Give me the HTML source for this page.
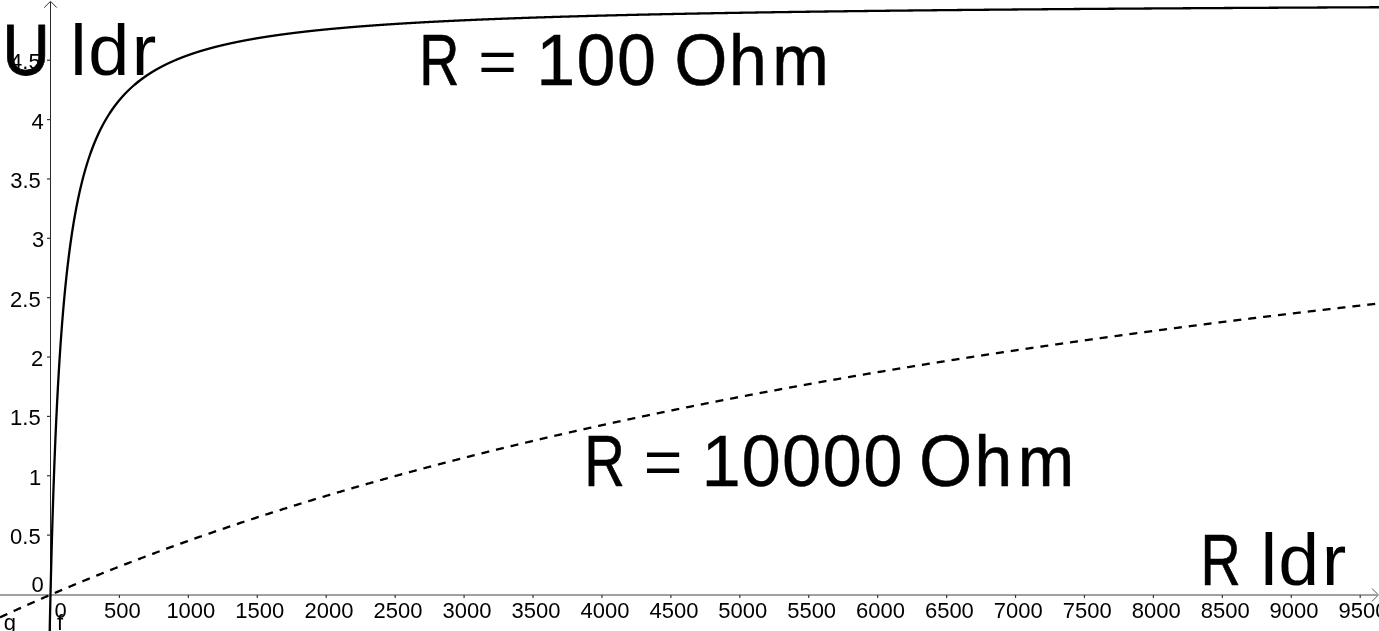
<!DOCTYPE html>
<html><head><meta charset="utf-8"><title>U ldr vs R ldr</title>
<style>html,body{margin:0;padding:0;background:#fff;overflow:hidden;width:1379px;height:631px}svg{display:block;will-change:transform}</style>
</head><body>

<svg width="1379" height="631" viewBox="0 0 1379 631">
<rect width="1379" height="631" fill="#fff"/>
<rect x="0" y="594" width="1377" height="2" fill="#a0a0a0"/>
<path d="M1372 588.5 L1378.4 594.9 L1372 601.3" fill="none" stroke="#555" stroke-width="1"/>
<rect x="50" y="2" width="1" height="629" fill="#2a2a2a"/>
<path d="M44.2 7.6 L50.5 1.3 L56.8 7.6" fill="none" stroke="#333" stroke-width="1"/>
<line x1="119.43" y1="595" x2="119.43" y2="598" stroke="#333" stroke-width="1.2"/>
<line x1="188.36" y1="595" x2="188.36" y2="598" stroke="#333" stroke-width="1.2"/>
<line x1="257.29" y1="595" x2="257.29" y2="598" stroke="#333" stroke-width="1.2"/>
<line x1="326.23" y1="595" x2="326.23" y2="598" stroke="#333" stroke-width="1.2"/>
<line x1="395.16" y1="595" x2="395.16" y2="598" stroke="#333" stroke-width="1.2"/>
<line x1="464.09" y1="595" x2="464.09" y2="598" stroke="#333" stroke-width="1.2"/>
<line x1="533.02" y1="595" x2="533.02" y2="598" stroke="#333" stroke-width="1.2"/>
<line x1="601.95" y1="595" x2="601.95" y2="598" stroke="#333" stroke-width="1.2"/>
<line x1="670.88" y1="595" x2="670.88" y2="598" stroke="#333" stroke-width="1.2"/>
<line x1="739.82" y1="595" x2="739.82" y2="598" stroke="#333" stroke-width="1.2"/>
<line x1="808.75" y1="595" x2="808.75" y2="598" stroke="#333" stroke-width="1.2"/>
<line x1="877.68" y1="595" x2="877.68" y2="598" stroke="#333" stroke-width="1.2"/>
<line x1="946.61" y1="595" x2="946.61" y2="598" stroke="#333" stroke-width="1.2"/>
<line x1="1015.54" y1="595" x2="1015.54" y2="598" stroke="#333" stroke-width="1.2"/>
<line x1="1084.47" y1="595" x2="1084.47" y2="598" stroke="#333" stroke-width="1.2"/>
<line x1="1153.41" y1="595" x2="1153.41" y2="598" stroke="#333" stroke-width="1.2"/>
<line x1="1222.34" y1="595" x2="1222.34" y2="598" stroke="#333" stroke-width="1.2"/>
<line x1="1291.27" y1="595" x2="1291.27" y2="598" stroke="#333" stroke-width="1.2"/>
<line x1="1360.20" y1="595" x2="1360.20" y2="598" stroke="#333" stroke-width="1.2"/>
<line x1="47" y1="535.13" x2="50.5" y2="535.13" stroke="#333" stroke-width="1.2"/>
<line x1="47" y1="475.77" x2="50.5" y2="475.77" stroke="#333" stroke-width="1.2"/>
<line x1="47" y1="416.40" x2="50.5" y2="416.40" stroke="#333" stroke-width="1.2"/>
<line x1="47" y1="357.03" x2="50.5" y2="357.03" stroke="#333" stroke-width="1.2"/>
<line x1="47" y1="297.67" x2="50.5" y2="297.67" stroke="#333" stroke-width="1.2"/>
<line x1="47" y1="238.30" x2="50.5" y2="238.30" stroke="#333" stroke-width="1.2"/>
<line x1="47" y1="178.93" x2="50.5" y2="178.93" stroke="#333" stroke-width="1.2"/>
<line x1="47" y1="119.57" x2="50.5" y2="119.57" stroke="#333" stroke-width="1.2"/>
<line x1="47" y1="60.20" x2="50.5" y2="60.20" stroke="#333" stroke-width="1.2"/>
<g style="font-family:'Liberation Sans',Arial,sans-serif;font-size:22px" fill="#000">
<text x="54.48" y="618.1">0</text>
<text x="103.97" y="618.1">500</text>
<text x="166.38" y="618.1">1000</text>
<text x="235.32" y="618.1">1500</text>
<text x="304.53" y="618.1">2000</text>
<text x="373.46" y="618.1">2500</text>
<text x="442.53" y="618.1">3000</text>
<text x="511.46" y="618.1">3500</text>
<text x="580.56" y="618.1">4000</text>
<text x="649.49" y="618.1">4500</text>
<text x="718.23" y="618.1">5000</text>
<text x="787.17" y="618.1">5500</text>
<text x="855.98" y="618.1">6000</text>
<text x="924.91" y="618.1">6500</text>
<text x="993.84" y="618.1">7000</text>
<text x="1062.77" y="618.1">7500</text>
<text x="1131.79" y="618.1">8000</text>
<text x="1200.72" y="618.1">8500</text>
<text x="1269.61" y="618.1">9000</text>
<text x="1338.54" y="618.1">9500</text>
</g>
<g style="font-family:'Liberation Sans',Arial,sans-serif;font-size:22px" fill="#000">
<text x="31.62" y="592.0">0</text>
<text x="10.04" y="544.1">0.5</text>
<text x="29.04" y="484.8">1</text>
<text x="10.04" y="425.4">1.5</text>
<text x="31.07" y="366.0">2</text>
<text x="10.04" y="306.7">2.5</text>
<text x="32.03" y="247.3">3</text>
<text x="10.24" y="187.9">3.5</text>
<text x="31.41" y="128.6">4</text>
<text x="10.04" y="69.2">4.5</text>
</g>
<text x="57.1" y="629.9" style="font-family:'Liberation Sans',Arial,sans-serif;font-size:22px">f</text>
<text x="3.7" y="630" style="font-family:'Liberation Sans',Arial,sans-serif;font-size:22px">g</text>
<path d="M49.52 640.00 L49.53 639.50 L49.54 639.00 L49.55 638.50 L49.56 638.00 L49.57 637.50 L49.59 637.00 L49.60 636.50 L49.61 636.00 L49.62 635.50 L49.63 635.00 L49.64 634.50 L49.65 634.00 L49.66 633.50 L49.67 633.00 L49.68 632.50 L49.69 632.00 L49.70 631.50 L49.71 631.00 L49.72 630.50 L49.73 630.00 L49.74 629.50 L49.75 629.00 L49.76 628.50 L49.77 628.00 L49.78 627.50 L49.79 627.00 L49.80 626.50 L49.81 626.00 L49.82 625.50 L49.83 625.00 L49.84 624.50 L49.85 624.00 L49.86 623.50 L49.87 623.00 L49.89 622.50 L49.90 622.00 L49.91 621.50 L49.92 621.00 L49.93 620.50 L49.94 620.00 L49.95 619.50 L49.96 619.00 L49.97 618.50 L49.98 618.00 L49.99 617.50 L50.00 617.00 L50.01 616.50 L50.02 616.00 L50.04 615.50 L50.05 615.00 L50.06 614.50 L50.07 614.00 L50.08 613.50 L50.09 613.00 L50.10 612.50 L50.11 612.00 L50.12 611.50 L50.13 611.00 L50.14 610.50 L50.16 610.00 L50.17 609.50 L50.18 609.00 L50.19 608.50 L50.20 608.00 L50.21 607.50 L50.22 607.00 L50.23 606.50 L50.24 606.00 L50.26 605.50 L50.27 605.00 L50.28 604.50 L50.29 604.00 L50.30 603.50 L50.31 603.00 L50.32 602.50 L50.33 602.00 L50.35 601.50 L50.36 601.00 L50.37 600.50 L50.38 600.00 L50.39 599.50 L50.40 599.00 L50.41 598.50 L50.43 598.00 L50.44 597.50 L50.45 597.00 L50.46 596.50 L50.47 596.00 L50.48 595.50 L50.50 595.00 L50.51 594.50 L50.52 594.00 L50.53 593.50 L50.54 593.00 L50.55 592.50 L50.57 592.00 L50.58 591.50 L50.59 591.00 L50.60 590.50 L50.61 590.00 L50.62 589.50 L50.64 589.00 L50.65 588.50 L50.66 588.00 L50.67 587.50 L50.68 587.00 L50.70 586.50 L50.71 586.00 L50.72 585.50 L50.73 585.00 L50.74 584.50 L50.76 584.00 L50.77 583.50 L50.78 583.00 L50.79 582.50 L50.80 582.00 L50.82 581.50 L50.83 581.00 L50.84 580.50 L50.85 580.00 L50.86 579.50 L50.88 579.00 L50.89 578.50 L50.90 578.00 L50.91 577.50 L50.93 577.00 L50.94 576.50 L50.95 576.00 L50.96 575.50 L50.98 575.00 L50.99 574.50 L51.00 574.00 L51.01 573.50 L51.03 573.00 L51.04 572.50 L51.05 572.00 L51.06 571.50 L51.08 571.00 L51.09 570.50 L51.10 570.00 L51.11 569.50 L51.13 569.00 L51.14 568.50 L51.15 568.00 L51.16 567.50 L51.18 567.00 L51.19 566.50 L51.20 566.00 L51.22 565.50 L51.23 565.00 L51.24 564.50 L51.25 564.00 L51.27 563.50 L51.28 563.00 L51.29 562.50 L51.31 562.00 L51.32 561.50 L51.33 561.00 L51.35 560.50 L51.36 560.00 L51.37 559.50 L51.38 559.00 L51.40 558.50 L51.41 558.00 L51.42 557.50 L51.44 557.00 L51.45 556.50 L51.46 556.00 L51.48 555.50 L51.49 555.00 L51.50 554.50 L51.52 554.00 L51.53 553.50 L51.54 553.00 L51.56 552.50 L51.57 552.00 L51.58 551.50 L51.60 551.00 L51.61 550.50 L51.63 550.00 L51.64 549.50 L51.65 549.00 L51.67 548.50 L51.68 548.00 L51.69 547.50 L51.71 547.00 L51.72 546.50 L51.73 546.00 L51.75 545.50 L51.76 545.00 L51.78 544.50 L51.79 544.00 L51.80 543.50 L51.82 543.00 L51.83 542.50 L51.85 542.00 L51.86 541.50 L51.87 541.00 L51.89 540.50 L51.90 540.00 L51.92 539.50 L51.93 539.00 L51.94 538.50 L51.96 538.00 L51.97 537.50 L51.99 537.00 L52.00 536.50 L52.02 536.00 L52.03 535.50 L52.04 535.00 L52.06 534.50 L52.07 534.00 L52.09 533.50 L52.10 533.00 L52.12 532.50 L52.13 532.00 L52.15 531.50 L52.16 531.00 L52.17 530.50 L52.19 530.00 L52.20 529.50 L52.22 529.00 L52.23 528.50 L52.25 528.00 L52.26 527.50 L52.28 527.00 L52.29 526.50 L52.31 526.00 L52.32 525.50 L52.34 525.00 L52.35 524.50 L52.37 524.00 L52.38 523.50 L52.40 523.00 L52.41 522.50 L52.43 522.00 L52.44 521.50 L52.46 521.00 L52.47 520.50 L52.49 520.00 L52.50 519.50 L52.52 519.00 L52.53 518.50 L52.55 518.00 L52.56 517.50 L52.58 517.00 L52.59 516.50 L52.61 516.00 L52.63 515.50 L52.64 515.00 L52.66 514.50 L52.67 514.00 L52.69 513.50 L52.70 513.00 L52.72 512.50 L52.73 512.00 L52.75 511.50 L52.77 511.00 L52.78 510.50 L52.80 510.00 L52.81 509.50 L52.83 509.00 L52.84 508.50 L52.86 508.00 L52.88 507.50 L52.89 507.00 L52.91 506.50 L52.92 506.00 L52.94 505.50 L52.96 505.00 L52.97 504.50 L52.99 504.00 L53.01 503.50 L53.02 503.00 L53.04 502.50 L53.05 502.00 L53.07 501.50 L53.09 501.00 L53.10 500.50 L53.12 500.00 L53.14 499.50 L53.15 499.00 L53.17 498.50 L53.19 498.00 L53.20 497.50 L53.22 497.00 L53.24 496.50 L53.25 496.00 L53.27 495.50 L53.29 495.00 L53.30 494.50 L53.32 494.00 L53.34 493.50 L53.35 493.00 L53.37 492.50 L53.39 492.00 L53.40 491.50 L53.42 491.00 L53.44 490.50 L53.46 490.00 L53.47 489.50 L53.49 489.00 L53.51 488.50 L53.52 488.00 L53.54 487.50 L53.56 487.00 L53.58 486.50 L53.59 486.00 L53.61 485.50 L53.63 485.00 L53.65 484.50 L53.66 484.00 L53.68 483.50 L53.70 483.00 L53.72 482.50 L53.73 482.00 L53.75 481.50 L53.77 481.00 L53.79 480.50 L53.81 480.00 L53.82 479.50 L53.84 479.00 L53.86 478.50 L53.88 478.00 L53.89 477.50 L53.91 477.00 L53.93 476.50 L53.95 476.00 L53.97 475.50 L53.99 475.00 L54.00 474.50 L54.02 474.00 L54.04 473.50 L54.06 473.00 L54.08 472.50 L54.10 472.00 L54.11 471.50 L54.13 471.00 L54.15 470.50 L54.17 470.00 L54.19 469.50 L54.21 469.00 L54.23 468.50 L54.24 468.00 L54.26 467.50 L54.28 467.00 L54.30 466.50 L54.32 466.00 L54.34 465.50 L54.36 465.00 L54.38 464.50 L54.40 464.00 L54.41 463.50 L54.43 463.00 L54.45 462.50 L54.47 462.00 L54.49 461.50 L54.51 461.00 L54.53 460.50 L54.55 460.00 L54.57 459.50 L54.59 459.00 L54.61 458.50 L54.63 458.00 L54.65 457.50 L54.67 457.00 L54.69 456.50 L54.71 456.00 L54.73 455.50 L54.75 455.00 L54.77 454.50 L54.79 454.00 L54.81 453.50 L54.83 453.00 L54.85 452.50 L54.87 452.00 L54.89 451.50 L54.91 451.00 L54.93 450.50 L54.95 450.00 L54.97 449.50 L54.99 449.00 L55.01 448.50 L55.03 448.00 L55.05 447.50 L55.07 447.00 L55.09 446.50 L55.11 446.00 L55.13 445.50 L55.15 445.00 L55.17 444.50 L55.19 444.00 L55.22 443.50 L55.24 443.00 L55.26 442.50 L55.28 442.00 L55.30 441.50 L55.32 441.00 L55.34 440.50 L55.36 440.00 L55.38 439.50 L55.41 439.00 L55.43 438.50 L55.45 438.00 L55.47 437.50 L55.49 437.00 L55.51 436.50 L55.53 436.00 L55.56 435.50 L55.58 435.00 L55.60 434.50 L55.62 434.00 L55.64 433.50 L55.67 433.00 L55.69 432.50 L55.71 432.00 L55.73 431.50 L55.75 431.00 L55.78 430.50 L55.80 430.00 L55.82 429.50 L55.84 429.00 L55.86 428.50 L55.89 428.00 L55.91 427.50 L55.93 427.00 L55.95 426.50 L55.98 426.00 L56.00 425.50 L56.02 425.00 L56.05 424.50 L56.07 424.00 L56.09 423.50 L56.11 423.00 L56.14 422.50 L56.16 422.00 L56.18 421.50 L56.21 421.00 L56.23 420.50 L56.25 420.00 L56.28 419.50 L56.30 419.00 L56.32 418.50 L56.35 418.00 L56.37 417.50 L56.39 417.00 L56.42 416.50 L56.44 416.00 L56.47 415.50 L56.49 415.00 L56.51 414.50 L56.54 414.00 L56.56 413.50 L56.59 413.00 L56.61 412.50 L56.63 412.00 L56.66 411.50 L56.68 411.00 L56.71 410.50 L56.73 410.00 L56.76 409.50 L56.78 409.00 L56.80 408.50 L56.83 408.00 L56.85 407.50 L56.88 407.00 L56.90 406.50 L56.93 406.00 L56.95 405.50 L56.98 405.00 L57.00 404.50 L57.03 404.00 L57.05 403.50 L57.08 403.00 L57.11 402.50 L57.13 402.00 L57.16 401.50 L57.18 401.00 L57.21 400.50 L57.23 400.00 L57.26 399.50 L57.28 399.00 L57.31 398.50 L57.34 398.00 L57.36 397.50 L57.39 397.00 L57.41 396.50 L57.44 396.00 L57.47 395.50 L57.49 395.00 L57.52 394.50 L57.55 394.00 L57.57 393.50 L57.60 393.00 L57.63 392.50 L57.65 392.00 L57.68 391.50 L57.71 391.00 L57.73 390.50 L57.76 390.00 L57.79 389.50 L57.81 389.00 L57.84 388.50 L57.87 388.00 L57.90 387.50 L57.92 387.00 L57.95 386.50 L57.98 386.00 L58.01 385.50 L58.03 385.00 L58.06 384.50 L58.09 384.00 L58.12 383.50 L58.15 383.00 L58.17 382.50 L58.20 382.00 L58.23 381.50 L58.26 381.00 L58.29 380.50 L58.32 380.00 L58.34 379.50 L58.37 379.00 L58.40 378.50 L58.43 378.00 L58.46 377.50 L58.49 377.00 L58.52 376.50 L58.55 376.00 L58.58 375.50 L58.61 375.00 L58.63 374.50 L58.66 374.00 L58.69 373.50 L58.72 373.00 L58.75 372.50 L58.78 372.00 L58.81 371.50 L58.84 371.00 L58.87 370.50 L58.90 370.00 L58.93 369.50 L58.96 369.00 L58.99 368.50 L59.02 368.00 L59.05 367.50 L59.08 367.00 L59.11 366.50 L59.15 366.00 L59.18 365.50 L59.21 365.00 L59.24 364.50 L59.27 364.00 L59.30 363.50 L59.33 363.00 L59.36 362.50 L59.39 362.00 L59.43 361.50 L59.46 361.00 L59.49 360.50 L59.52 360.00 L59.55 359.50 L59.58 359.00 L59.62 358.50 L59.65 358.00 L59.68 357.50 L59.71 357.00 L59.74 356.50 L59.78 356.00 L59.81 355.50 L59.84 355.00 L59.88 354.50 L59.91 354.00 L59.94 353.50 L59.97 353.00 L60.01 352.50 L60.04 352.00 L60.07 351.50 L60.11 351.00 L60.14 350.50 L60.17 350.00 L60.21 349.50 L60.24 349.00 L60.28 348.50 L60.31 348.00 L60.34 347.50 L60.38 347.00 L60.41 346.50 L60.45 346.00 L60.48 345.50 L60.51 345.00 L60.55 344.50 L60.58 344.00 L60.62 343.50 L60.65 343.00 L60.69 342.50 L60.72 342.00 L60.76 341.50 L60.80 341.00 L60.83 340.50 L60.87 340.00 L60.90 339.50 L60.94 339.00 L60.97 338.50 L61.01 338.00 L61.05 337.50 L61.08 337.00 L61.12 336.50 L61.15 336.00 L61.19 335.50 L61.23 335.00 L61.26 334.50 L61.30 334.00 L61.34 333.50 L61.38 333.00 L61.41 332.50 L61.45 332.00 L61.49 331.50 L61.53 331.00 L61.56 330.50 L61.60 330.00 L61.64 329.50 L61.68 329.00 L61.71 328.50 L61.75 328.00 L61.79 327.50 L61.83 327.00 L61.87 326.50 L61.91 326.00 L61.95 325.50 L61.98 325.00 L62.02 324.50 L62.06 324.00 L62.10 323.50 L62.14 323.00 L62.18 322.50 L62.22 322.00 L62.26 321.50 L62.30 321.00 L62.34 320.50 L62.38 320.00 L62.42 319.50 L62.46 319.00 L62.50 318.50 L62.54 318.00 L62.58 317.50 L62.62 317.00 L62.67 316.50 L62.71 316.00 L62.75 315.50 L62.79 315.00 L62.83 314.50 L62.87 314.00 L62.92 313.50 L62.96 313.00 L63.00 312.50 L63.04 312.00 L63.08 311.50 L63.13 311.00 L63.17 310.50 L63.21 310.00 L63.26 309.50 L63.30 309.00 L63.34 308.50 L63.38 308.00 L63.43 307.50 L63.47 307.00 L63.52 306.50 L63.56 306.00 L63.60 305.50 L63.65 305.00 L63.69 304.50 L63.74 304.00 L63.78 303.50 L63.83 303.00 L63.87 302.50 L63.92 302.00 L63.96 301.50 L64.01 301.00 L64.05 300.50 L64.10 300.00 L64.14 299.50 L64.19 299.00 L64.24 298.50 L64.28 298.00 L64.33 297.50 L64.38 297.00 L64.42 296.50 L64.47 296.00 L64.52 295.50 L64.56 295.00 L64.61 294.50 L64.66 294.00 L64.71 293.50 L64.76 293.00 L64.80 292.50 L64.85 292.00 L64.90 291.50 L64.95 291.00 L65.00 290.50 L65.05 290.00 L65.10 289.50 L65.15 289.00 L65.19 288.50 L65.24 288.00 L65.29 287.50 L65.34 287.00 L65.39 286.50 L65.44 286.00 L65.50 285.50 L65.55 285.00 L65.60 284.50 L65.65 284.00 L65.70 283.50 L65.75 283.00 L65.80 282.50 L65.85 282.00 L65.91 281.50 L65.96 281.00 L66.01 280.50 L66.06 280.00 L66.12 279.50 L66.17 279.00 L66.22 278.50 L66.27 278.00 L66.33 277.50 L66.38 277.00 L66.44 276.50 L66.49 276.00 L66.54 275.50 L66.60 275.00 L66.65 274.50 L66.71 274.00 L66.76 273.50 L66.82 273.00 L66.87 272.50 L66.93 272.00 L66.99 271.50 L67.04 271.00 L67.10 270.50 L67.15 270.00 L67.21 269.50 L67.27 269.00 L67.33 268.50 L67.38 268.00 L67.44 267.50 L67.50 267.00 L67.56 266.50 L67.61 266.00 L67.67 265.50 L67.73 265.00 L67.79 264.50 L67.85 264.00 L67.91 263.50 L67.97 263.00 L68.03 262.50 L68.09 262.00 L68.15 261.50 L68.21 261.00 L68.27 260.50 L68.33 260.00 L68.39 259.50 L68.45 259.00 L68.51 258.50 L68.58 258.00 L68.64 257.50 L68.70 257.00 L68.76 256.50 L68.83 256.00 L68.89 255.50 L68.95 255.00 L69.02 254.50 L69.08 254.00 L69.14 253.50 L69.21 253.00 L69.27 252.50 L69.34 252.00 L69.40 251.50 L69.47 251.00 L69.53 250.50 L69.60 250.00 L69.67 249.50 L69.73 249.00 L69.80 248.50 L69.87 248.00 L69.93 247.50 L70.00 247.00 L70.07 246.50 L70.14 246.00 L70.21 245.50 L70.27 245.00 L70.34 244.50 L70.41 244.00 L70.48 243.50 L70.55 243.00 L70.62 242.50 L70.69 242.00 L70.76 241.50 L70.83 241.00 L70.91 240.50 L70.98 240.00 L71.05 239.50 L71.12 239.00 L71.19 238.50 L71.27 238.00 L71.34 237.50 L71.41 237.00 L71.49 236.50 L71.56 236.00 L71.64 235.50 L71.71 235.00 L71.79 234.50 L71.86 234.00 L71.94 233.50 L72.01 233.00 L72.09 232.50 L72.16 232.00 L72.24 231.50 L72.32 231.00 L72.40 230.50 L72.47 230.00 L72.55 229.50 L72.63 229.00 L72.71 228.50 L72.79 228.00 L72.87 227.50 L72.95 227.00 L73.03 226.50 L73.11 226.00 L73.19 225.50 L73.27 225.00 L73.36 224.50 L73.44 224.00 L73.52 223.50 L73.60 223.00 L73.69 222.50 L73.77 222.00 L73.85 221.50 L73.94 221.00 L74.02 220.50 L74.11 220.00 L74.19 219.50 L74.28 219.00 L74.37 218.50 L74.45 218.00 L74.54 217.50 L74.63 217.00 L74.72 216.50 L74.80 216.00 L74.89 215.50 L74.98 215.00 L75.07 214.50 L75.16 214.00 L75.25 213.50 L75.34 213.00 L75.44 212.50 L75.53 212.00 L75.62 211.50 L75.71 211.00 L75.81 210.50 L75.90 210.00 L75.99 209.50 L76.09 209.00 L76.18 208.50 L76.28 208.00 L76.37 207.50 L76.47 207.00 L76.57 206.50 L76.66 206.00 L76.76 205.50 L76.86 205.00 L76.96 204.50 L77.06 204.00 L77.16 203.50 L77.26 203.00 L77.36 202.50 L77.46 202.00 L77.56 201.50 L77.66 201.00 L77.77 200.50 L77.87 200.00 L77.97 199.50 L78.08 199.00 L78.18 198.50 L78.29 198.00 L78.39 197.50 L78.50 197.00 L78.61 196.50 L78.71 196.00 L78.82 195.50 L78.93 195.00 L79.04 194.50 L79.15 194.00 L79.26 193.50 L79.37 193.00 L79.48 192.50 L79.59 192.00 L79.71 191.50 L79.82 191.00 L79.93 190.50 L80.05 190.00 L80.16 189.50 L80.28 189.00 L80.40 188.50 L80.51 188.00 L80.63 187.50 L80.75 187.00 L80.87 186.50 L80.99 186.00 L81.11 185.50 L81.23 185.00 L81.35 184.50 L81.47 184.00 L81.59 183.50 L81.72 183.00 L81.84 182.50 L81.97 182.00 L82.09 181.50 L82.22 181.00 L82.34 180.50 L82.47 180.00 L82.60 179.50 L82.73 179.00 L82.86 178.50 L82.99 178.00 L83.12 177.50 L83.25 177.00 L83.38 176.50 L83.52 176.00 L83.65 175.50 L83.79 175.00 L83.92 174.50 L84.06 174.00 L84.20 173.50 L84.33 173.00 L84.47 172.50 L84.61 172.00 L84.75 171.50 L84.90 171.00 L85.04 170.50 L85.18 170.00 L85.32 169.50 L85.47 169.00 L85.62 168.50 L85.76 168.00 L85.91 167.50 L86.06 167.00 L86.21 166.50 L86.36 166.00 L86.51 165.50 L86.66 165.00 L86.81 164.50 L86.97 164.00 L87.12 163.50 L87.28 163.00 L87.43 162.50 L87.59 162.00 L87.75 161.50 L87.91 161.00 L88.07 160.50 L88.23 160.00 L88.39 159.50 L88.56 159.00 L88.72 158.50 L88.89 158.00 L89.06 157.50 L89.22 157.00 L89.39 156.50 L89.56 156.00 L89.73 155.50 L89.91 155.00 L90.08 154.50 L90.25 154.00 L90.43 153.50 L90.61 153.00 L90.78 152.50 L90.96 152.00 L91.14 151.50 L91.33 151.00 L91.51 150.50 L91.69 150.00 L91.88 149.50 L92.06 149.00 L92.25 148.50 L92.44 148.00 L92.63 147.50 L92.82 147.00 L93.02 146.50 L93.21 146.00 L93.41 145.50 L93.60 145.00 L93.80 144.50 L94.00 144.00 L94.20 143.50 L94.41 143.00 L94.61 142.50 L94.81 142.00 L95.02 141.50 L95.23 141.00 L95.44 140.50 L95.65 140.00 L95.86 139.50 L96.08 139.00 L96.29 138.50 L96.51 138.00 L96.73 137.50 L96.95 137.00 L97.18 136.50 L97.40 136.00 L97.63 135.50 L97.85 135.00 L98.08 134.50 L98.31 134.00 L98.55 133.50 L98.78 133.00 L99.02 132.50 L99.25 132.00 L99.49 131.50 L99.74 131.00 L99.98 130.50 L100.22 130.00 L100.47 129.50 L100.72 129.00 L100.97 128.50 L101.23 128.00 L101.48 127.50 L101.74 127.00 L102.00 126.50 L102.26 126.00 L102.52 125.50 L102.79 125.00 L103.06 124.50 L103.33 124.00 L103.60 123.50 L103.87 123.00 L104.15 122.50 L104.43 122.00 L104.71 121.50 L104.99 121.00 L105.28 120.50 L105.57 120.00 L105.86 119.50 L106.15 119.00 L106.45 118.50 L106.75 118.00 L107.05 117.50 L107.35 117.00 L107.66 116.50 L107.97 116.00 L108.28 115.50 L108.59 115.00 L108.91 114.50 L109.23 114.00 L109.55 113.50 L109.88 113.00 L110.20 112.50 L110.54 112.00 L110.87 111.50 L111.21 111.00 L111.55 110.50 L111.89 110.00 L112.24 109.50 L112.59 109.00 L112.94 108.50 L113.30 108.00 L113.66 107.50 L114.02 107.00 L114.39 106.50 L114.76 106.00 L115.13 105.50 L115.51 105.00 L115.89 104.50 L116.28 104.00 L116.67 103.50 L117.06 103.00 L117.45 102.50 L117.86 102.00 L118.26 101.50 L118.67 101.00 L119.08 100.50 L119.50 100.00 L119.92 99.50 L120.34 99.00 L120.77 98.50 L121.21 98.00 L121.64 97.50 L122.09 97.00 L122.53 96.50 L122.99 96.00 L123.44 95.50 L123.91 95.00 L124.37 94.50 L124.85 94.00 L125.32 93.50 L125.80 93.00 L126.29 92.50 L126.78 92.00 L127.28 91.50 L127.79 91.00 L128.30 90.50 L128.81 90.00 L129.33 89.50 L129.86 89.00 L130.39 88.50 L130.93 88.00 L131.48 87.50 L132.03 87.00 L132.59 86.50 L133.15 86.00 L133.72 85.50 L134.30 85.00 L134.89 84.50 L135.48 84.00 L136.08 83.50 L136.69 83.00 L137.30 82.50 L137.92 82.00 L138.55 81.50 L139.19 81.00 L139.84 80.50 L140.49 80.00 L141.15 79.50 L141.82 79.00 L142.50 78.50 L143.19 78.00 L143.89 77.50 L144.59 77.00 L145.31 76.50 L146.03 76.00 L146.77 75.50 L147.51 75.00 L148.27 74.50 L149.03 74.00 L149.81 73.50 L150.60 73.00 L151.40 72.50 L152.20 72.00 L153.03 71.50 L153.86 71.00 L154.70 70.50 L155.56 70.00 L156.43 69.50 L157.31 69.00 L158.21 68.50 L159.11 68.00 L160.04 67.50 L160.97 67.00 L161.92 66.50 L162.89 66.00 L163.87 65.50 L164.86 65.00 L165.87 64.50 L166.90 64.00 L167.95 63.50 L169.01 63.00 L170.08 62.50 L171.18 62.00 L172.29 61.50 L173.43 61.00 L174.58 60.50 L175.75 60.00 L175.76 60.00 L175.77 59.99 L175.79 59.98 L175.81 59.98 L175.83 59.97 L175.86 59.95 L175.88 59.94 L175.91 59.93 L175.95 59.92 L175.98 59.90 L176.02 59.89 L176.05 59.87 L176.09 59.85 L176.13 59.84 L176.18 59.82 L176.22 59.80 L176.26 59.78 L176.31 59.76 L176.36 59.74 L176.41 59.72 L176.46 59.70 L176.51 59.68 L176.56 59.66 L176.62 59.64 L176.67 59.61 L176.73 59.59 L176.78 59.57 L176.84 59.54 L176.90 59.52 L176.96 59.49 L177.02 59.47 L177.08 59.44 L177.15 59.41 L177.21 59.39 L177.28 59.36 L177.34 59.33 L177.41 59.31 L177.48 59.28 L177.54 59.25 L177.61 59.22 L177.68 59.19 L177.76 59.16 L177.83 59.13 L177.90 59.10 L177.97 59.07 L178.05 59.04 L178.12 59.01 L178.20 58.98 L178.28 58.95 L178.36 58.92 L178.43 58.88 L178.51 58.85 L178.59 58.82 L178.67 58.79 L178.76 58.75 L178.84 58.72 L178.92 58.69 L179.01 58.65 L179.09 58.62 L179.18 58.58 L179.26 58.55 L179.35 58.51 L179.44 58.48 L179.52 58.44 L179.61 58.41 L179.70 58.37 L179.79 58.34 L179.88 58.30 L179.98 58.26 L180.07 58.23 L180.16 58.19 L180.25 58.15 L180.35 58.11 L180.44 58.08 L180.54 58.04 L180.63 58.00 L180.73 57.96 L180.83 57.92 L180.93 57.89 L181.03 57.85 L181.13 57.81 L181.22 57.77 L181.33 57.73 L181.43 57.69 L181.53 57.65 L181.63 57.61 L181.73 57.57 L181.84 57.53 L181.94 57.49 L182.05 57.45 L182.15 57.41 L182.26 57.37 L182.36 57.33 L182.47 57.29 L182.58 57.24 L182.69 57.20 L182.79 57.16 L182.90 57.12 L183.01 57.08 L183.12 57.03 L183.23 56.99 L183.35 56.95 L183.46 56.91 L183.57 56.86 L183.68 56.82 L183.80 56.78 L183.91 56.74 L184.03 56.69 L184.14 56.65 L184.26 56.60 L184.37 56.56 L184.49 56.52 L184.61 56.47 L184.73 56.43 L184.84 56.39 L184.96 56.34 L185.08 56.30 L185.20 56.25 L185.32 56.21 L185.44 56.16 L185.57 56.12 L185.69 56.07 L185.81 56.03 L185.93 55.98 L186.06 55.94 L186.18 55.89 L186.30 55.85 L186.43 55.80 L186.56 55.75 L186.68 55.71 L186.81 55.66 L186.93 55.62 L187.06 55.57 L187.19 55.52 L187.32 55.48 L187.45 55.43 L187.58 55.38 L187.71 55.34 L187.84 55.29 L187.97 55.24 L188.10 55.20 L188.23 55.15 L188.36 55.10 L188.49 55.06 L188.63 55.01 L188.76 54.96 L188.89 54.91 L189.03 54.87 L189.16 54.82 L189.30 54.77 L189.43 54.72 L189.57 54.68 L189.71 54.63 L189.84 54.58 L189.98 54.53 L190.12 54.49 L190.26 54.44 L190.40 54.39 L190.54 54.34 L190.68 54.29 L190.82 54.24 L190.96 54.20 L191.10 54.15 L191.24 54.10 L191.38 54.05 L191.52 54.00 L191.67 53.95 L191.81 53.90 L191.95 53.85 L192.10 53.81 L192.24 53.76 L192.39 53.71 L192.53 53.66 L192.68 53.61 L192.82 53.56 L192.97 53.51 L193.12 53.46 L193.26 53.41 L193.41 53.36 L193.56 53.31 L193.71 53.27 L193.86 53.22 L194.01 53.17 L194.16 53.12 L194.31 53.07 L194.46 53.02 L194.61 52.97 L194.76 52.92 L194.91 52.87 L195.07 52.82 L195.22 52.77 L195.37 52.72 L195.53 52.67 L195.68 52.62 L195.83 52.57 L195.99 52.52 L196.14 52.47 L196.30 52.42 L196.45 52.37 L196.61 52.32 L196.77 52.27 L196.92 52.22 L197.08 52.17 L197.24 52.12 L197.40 52.07 L197.56 52.02 L197.72 51.97 L197.87 51.92 L198.03 51.87 L198.19 51.82 L198.36 51.77 L198.52 51.72 L198.68 51.67 L198.84 51.62 L199.00 51.57 L199.16 51.51 L199.33 51.46 L199.49 51.41 L199.65 51.36 L199.82 51.31 L199.98 51.26 L200.15 51.21 L200.31 51.16 L200.48 51.11 L200.64 51.06 L200.81 51.01 L200.97 50.96 L201.14 50.91 L201.31 50.86 L201.48 50.81 L201.64 50.76 L201.81 50.71 L201.98 50.66 L202.15 50.61 L202.32 50.55 L202.49 50.50 L202.66 50.45 L202.83 50.40 L203.00 50.35 L203.17 50.30 L203.34 50.25 L203.52 50.20 L203.69 50.15 L203.86 50.10 L204.03 50.05 L204.21 50.00 L204.38 49.95 L204.56 49.90 L204.73 49.85 L204.90 49.80 L205.08 49.74 L205.26 49.69 L205.43 49.64 L205.61 49.59 L205.78 49.54 L205.96 49.49 L206.14 49.44 L206.32 49.39 L206.49 49.34 L206.67 49.29 L206.85 49.24 L207.03 49.19 L207.21 49.14 L207.39 49.09 L207.57 49.04 L207.75 48.99 L207.93 48.94 L208.11 48.89 L208.29 48.83 L208.47 48.78 L208.65 48.73 L208.84 48.68 L209.02 48.63 L209.20 48.58 L209.39 48.53 L209.57 48.48 L209.75 48.43 L209.94 48.38 L210.12 48.33 L210.31 48.28 L210.49 48.23 L210.68 48.18 L210.86 48.13 L211.05 48.08 L211.24 48.03 L211.42 47.98 L211.61 47.93 L211.80 47.88 L211.99 47.83 L212.18 47.78 L212.36 47.73 L212.55 47.68 L212.74 47.63 L212.93 47.58 L213.12 47.53 L213.31 47.48 L213.50 47.43 L213.69 47.38 L213.88 47.33 L214.08 47.28 L214.27 47.23 L214.46 47.18 L214.65 47.13 L214.84 47.08 L215.04 47.03 L215.23 46.98 L215.42 46.93 L215.62 46.88 L215.81 46.83 L216.01 46.78 L216.20 46.73 L216.40 46.68 L216.59 46.63 L216.79 46.58 L216.99 46.53 L217.18 46.48 L217.38 46.44 L217.58 46.39 L217.77 46.34 L217.97 46.29 L218.17 46.24 L218.37 46.19 L218.57 46.14 L218.77 46.09 L218.96 46.04 L219.16 45.99 L219.36 45.94 L219.56 45.89 L219.77 45.84 L219.97 45.80 L220.17 45.75 L220.37 45.70 L220.57 45.65 L220.77 45.60 L220.97 45.55 L221.18 45.50 L221.38 45.45 L221.58 45.40 L221.79 45.36 L221.99 45.31 L222.20 45.26 L222.40 45.21 L222.60 45.16 L222.81 45.11 L223.01 45.06 L223.22 45.02 L223.43 44.97 L223.63 44.92 L223.84 44.87 L224.05 44.82 L224.25 44.77 L224.46 44.73 L224.67 44.68 L224.88 44.63 L225.08 44.58 L225.29 44.53 L225.50 44.49 L225.71 44.44 L225.92 44.39 L226.13 44.34 L226.34 44.29 L226.55 44.25 L226.76 44.20 L226.97 44.15 L227.18 44.10 L227.40 44.06 L227.61 44.01 L227.82 43.96 L228.03 43.91 L228.24 43.87 L228.46 43.82 L228.67 43.77 L228.88 43.72 L229.10 43.68 L229.31 43.63 L229.53 43.58 L229.74 43.53 L229.96 43.49 L230.17 43.44 L230.39 43.39 L230.60 43.35 L230.82 43.30 L231.04 43.25 L231.25 43.20 L231.47 43.16 L231.69 43.11 L231.90 43.06 L232.12 43.02 L232.34 42.97 L232.56 42.92 L232.78 42.88 L233.00 42.83 L233.21 42.78 L233.43 42.74 L233.65 42.69 L233.87 42.65 L234.09 42.60 L234.31 42.55 L234.54 42.51 L234.76 42.46 L234.98 42.41 L235.20 42.37 L235.42 42.32 L235.64 42.28 L235.87 42.23 L236.09 42.18 L236.31 42.14 L236.54 42.09 L236.76 42.05 L236.98 42.00 L237.21 41.95 L237.43 41.91 L237.66 41.86 L237.88 41.82 L238.11 41.77 L238.33 41.73 L238.56 41.68 L238.78 41.64 L239.01 41.59 L239.24 41.55 L239.46 41.50 L239.69 41.46 L239.92 41.41 L240.15 41.37 L240.37 41.32 L240.60 41.28 L240.83 41.23 L241.06 41.19 L241.29 41.14 L241.52 41.10 L241.75 41.05 L241.98 41.01 L242.21 40.96 L242.44 40.92 L242.67 40.87 L242.90 40.83 L243.13 40.78 L243.36 40.74 L243.59 40.69 L243.83 40.65 L244.06 40.61 L244.29 40.56 L244.52 40.52 L244.76 40.47 L244.99 40.43 L245.22 40.39 L245.46 40.34 L245.69 40.30 L245.93 40.25 L246.16 40.21 L246.39 40.17 L246.63 40.12 L246.87 40.08 L247.10 40.04 L247.34 39.99 L247.57 39.95 L247.81 39.90 L248.05 39.86 L248.28 39.82 L248.52 39.77 L248.76 39.73 L249.00 39.69 L249.23 39.64 L249.47 39.60 L249.71 39.56 L249.95 39.52 L250.19 39.47 L250.43 39.43 L250.67 39.39 L250.91 39.34 L251.15 39.30 L251.39 39.26 L251.63 39.22 L251.87 39.17 L252.11 39.13 L252.35 39.09 L252.59 39.05 L252.83 39.00 L253.08 38.96 L253.32 38.92 L253.56 38.88 L253.80 38.83 L254.05 38.79 L254.29 38.75 L254.53 38.71 L254.78 38.67 L255.02 38.62 L255.26 38.58 L255.51 38.54 L255.75 38.50 L256.00 38.46 L256.24 38.42 L256.49 38.37 L256.74 38.33 L256.98 38.29 L257.23 38.25 L257.47 38.21 L257.72 38.17 L257.97 38.12 L258.22 38.08 L258.46 38.04 L258.71 38.00 L258.96 37.96 L259.21 37.92 L259.46 37.88 L259.70 37.84 L259.95 37.80 L260.20 37.75 L260.45 37.71 L260.70 37.67 L260.95 37.63 L261.20 37.59 L261.45 37.55 L261.70 37.51 L261.95 37.47 L262.21 37.43 L262.46 37.39 L262.71 37.35 L262.96 37.31 L263.21 37.27 L263.47 37.23 L263.72 37.19 L263.97 37.15 L264.22 37.11 L264.48 37.07 L264.73 37.03 L264.98 36.99 L265.24 36.95 L265.49 36.91 L265.75 36.87 L266.00 36.83 L266.26 36.79 L266.51 36.75 L266.77 36.71 L267.02 36.67 L267.28 36.63 L267.54 36.59 L267.79 36.55 L268.05 36.51 L268.31 36.47 L268.56 36.43 L268.82 36.39 L269.08 36.36 L269.34 36.32 L269.60 36.28 L269.85 36.24 L270.11 36.20 L270.37 36.16 L270.63 36.12 L270.89 36.08 L271.15 36.04 L271.41 36.01 L271.67 35.97 L271.93 35.93 L272.19 35.89 L272.45 35.85 L272.71 35.81 L272.97 35.78 L273.23 35.74 L273.50 35.70 L273.76 35.66 L274.02 35.62 L274.28 35.58 L274.55 35.55 L274.81 35.51 L275.07 35.47 L275.34 35.43 L275.60 35.39 L275.86 35.36 L276.13 35.32 L276.39 35.28 L276.66 35.24 L276.92 35.21 L277.19 35.17 L277.45 35.13 L277.72 35.09 L277.98 35.06 L278.25 35.02 L278.51 34.98 L278.78 34.94 L279.05 34.91 L279.31 34.87 L279.58 34.83 L279.85 34.80 L280.11 34.76 L280.38 34.72 L280.65 34.68 L280.92 34.65 L281.19 34.61 L281.46 34.57 L281.72 34.54 L281.99 34.50 L282.26 34.46 L282.53 34.43 L282.80 34.39 L283.07 34.36 L283.34 34.32 L283.61 34.28 L283.88 34.25 L284.15 34.21 L284.43 34.17 L284.70 34.14 L284.97 34.10 L285.24 34.07 L285.51 34.03 L285.78 33.99 L286.06 33.96 L286.33 33.92 L286.60 33.89 L286.88 33.85 L287.15 33.81 L287.42 33.78 L287.70 33.74 L287.97 33.71 L288.25 33.67 L288.52 33.64 L288.79 33.60 L289.07 33.57 L289.34 33.53 L289.62 33.50 L289.90 33.46 L290.17 33.42 L290.45 33.39 L290.72 33.35 L291.00 33.32 L291.28 33.28 L291.55 33.25 L291.83 33.21 L292.11 33.18 L292.39 33.14 L292.66 33.11 L292.94 33.08 L293.22 33.04 L293.50 33.01 L293.78 32.97 L294.06 32.94 L294.34 32.90 L294.61 32.87 L294.89 32.83 L295.17 32.80 L295.45 32.77 L295.73 32.73 L296.01 32.70 L296.30 32.66 L296.58 32.63 L296.86 32.59 L297.14 32.56 L297.42 32.53 L297.70 32.49 L297.98 32.46 L298.27 32.43 L298.55 32.39 L298.83 32.36 L299.11 32.32 L299.40 32.29 L299.68 32.26 L299.96 32.22 L300.25 32.19 L300.53 32.16 L300.82 32.12 L301.10 32.09 L301.38 32.06 L301.67 32.02 L301.95 31.99 L302.24 31.96 L302.52 31.92 L302.81 31.89 L303.10 31.86 L303.38 31.82 L303.67 31.79 L303.96 31.76 L304.24 31.73 L304.53 31.69 L304.82 31.66 L305.10 31.63 L305.39 31.60 L305.68 31.56 L305.97 31.53 L306.25 31.50 L306.54 31.47 L306.83 31.43 L307.12 31.40 L307.41 31.37 L307.70 31.34 L307.99 31.30 L308.28 31.27 L308.57 31.24 L308.86 31.21 L309.15 31.18 L309.44 31.14 L309.73 31.11 L310.02 31.08 L310.31 31.05 L310.60 31.02 L310.89 30.98 L311.19 30.95 L311.48 30.92 L311.77 30.89 L312.06 30.86 L312.36 30.83 L312.65 30.79 L312.94 30.76 L313.24 30.73 L313.53 30.70 L313.82 30.67 L314.12 30.64 L314.41 30.61 L314.70 30.57 L315.00 30.54 L315.29 30.51 L315.59 30.48 L315.88 30.45 L316.18 30.42 L316.47 30.39 L316.77 30.36 L317.07 30.33 L317.36 30.30 L317.66 30.27 L317.96 30.23 L318.25 30.20 L318.55 30.17 L318.85 30.14 L319.14 30.11 L319.44 30.08 L319.74 30.05 L320.04 30.02 L320.34 29.99 L320.63 29.96 L320.93 29.93 L321.23 29.90 L321.53 29.87 L321.83 29.84 L322.13 29.81 L322.43 29.78 L322.73 29.75 L323.03 29.72 L323.33 29.69 L323.63 29.66 L323.93 29.63 L324.23 29.60 L324.53 29.57 L324.83 29.54 L325.13 29.51 L325.44 29.48 L325.74 29.45 L326.04 29.42 L326.34 29.39 L326.65 29.36 L326.95 29.33 L327.25 29.30 L327.55 29.27 L327.86 29.24 L328.16 29.22 L328.46 29.19 L328.77 29.16 L329.07 29.13 L329.38 29.10 L329.68 29.07 L329.99 29.04 L330.29 29.01 L330.60 28.98 L330.90 28.95 L331.21 28.93 L331.51 28.90 L331.82 28.87 L332.12 28.84 L332.43 28.81 L332.74 28.78 L333.04 28.75 L333.35 28.72 L333.66 28.70 L333.97 28.67 L334.27 28.64 L334.58 28.61 L334.89 28.58 L335.20 28.55 L335.51 28.53 L335.81 28.50 L336.12 28.47 L336.43 28.44 L336.74 28.41 L337.05 28.38 L337.36 28.36 L337.67 28.33 L337.98 28.30 L338.29 28.27 L338.60 28.24 L338.91 28.22 L339.22 28.19 L339.53 28.16 L339.84 28.13 L340.15 28.11 L340.47 28.08 L340.78 28.05 L341.09 28.02 L341.40 28.00 L341.71 27.97 L342.03 27.94 L342.34 27.91 L342.65 27.89 L342.96 27.86 L343.28 27.83 L343.59 27.80 L343.90 27.78 L344.22 27.75 L344.53 27.72 L344.85 27.69 L345.16 27.67 L345.48 27.64 L345.79 27.61 L346.11 27.59 L346.42 27.56 L346.74 27.53 L347.05 27.51 L347.37 27.48 L347.68 27.45 L348.00 27.43 L348.32 27.40 L348.63 27.37 L348.95 27.35 L349.27 27.32 L349.58 27.29 L349.90 27.27 L350.22 27.24 L350.54 27.21 L350.85 27.19 L351.17 27.16 L351.49 27.13 L351.81 27.11 L352.13 27.08 L352.45 27.06 L352.76 27.03 L353.08 27.00 L353.40 26.98 L353.72 26.95 L354.04 26.93 L354.36 26.90 L354.68 26.87 L355.00 26.85 L355.32 26.82 L355.64 26.80 L355.97 26.77 L356.29 26.74 L356.61 26.72 L356.93 26.69 L357.25 26.67 L357.57 26.64 L357.90 26.62 L358.22 26.59 L358.54 26.56 L358.86 26.54 L359.19 26.51 L359.51 26.49 L359.83 26.46 L360.16 26.44 L360.48 26.41 L360.80 26.39 L361.13 26.36 L361.45 26.34 L361.78 26.31 L362.10 26.29 L362.42 26.26 L362.75 26.24 L363.07 26.21 L363.40 26.19 L363.73 26.16 L364.05 26.14 L364.38 26.11 L364.70 26.09 L365.03 26.06 L365.36 26.04 L365.68 26.01 L366.01 25.99 L366.34 25.96 L366.66 25.94 L366.99 25.91 L367.32 25.89 L367.65 25.86 L367.97 25.84 L368.30 25.82 L368.63 25.79 L368.96 25.77 L369.29 25.74 L369.62 25.72 L369.95 25.69 L370.27 25.67 L370.60 25.65 L370.93 25.62 L371.26 25.60 L371.59 25.57 L371.92 25.55 L372.25 25.53 L372.58 25.50 L372.92 25.48 L373.25 25.45 L373.58 25.43 L373.91 25.41 L374.24 25.38 L374.57 25.36 L374.90 25.33 L375.24 25.31 L375.57 25.29 L375.90 25.26 L376.23 25.24 L376.57 25.22 L376.90 25.19 L377.23 25.17 L377.57 25.15 L377.90 25.12 L378.23 25.10 L378.57 25.07 L378.90 25.05 L379.23 25.03 L379.57 25.00 L379.90 24.98 L380.24 24.96 L380.57 24.94 L380.91 24.91 L381.24 24.89 L381.58 24.87 L381.91 24.84 L382.25 24.82 L382.59 24.80 L382.92 24.77 L383.26 24.75 L383.60 24.73 L383.93 24.70 L384.27 24.68 L384.61 24.66 L384.94 24.64 L385.28 24.61 L385.62 24.59 L385.96 24.57 L386.30 24.55 L386.63 24.52 L386.97 24.50 L387.31 24.48 L387.65 24.46 L387.99 24.43 L388.33 24.41 L388.67 24.39 L389.01 24.37 L389.35 24.34 L389.69 24.32 L390.03 24.30 L390.37 24.28 L390.71 24.25 L391.05 24.23 L391.39 24.21 L391.73 24.19 L392.07 24.17 L392.41 24.14 L392.75 24.12 L393.09 24.10 L393.44 24.08 L393.78 24.05 L394.12 24.03 L394.46 24.01 L394.81 23.99 L395.15 23.97 L395.49 23.95 L395.83 23.92 L396.18 23.90 L396.52 23.88 L396.86 23.86 L397.21 23.84 L397.55 23.82 L397.90 23.79 L398.24 23.77 L398.58 23.75 L398.93 23.73 L399.27 23.71 L399.62 23.69 L399.96 23.66 L400.31 23.64 L400.66 23.62 L401.00 23.60 L401.35 23.58 L401.69 23.56 L402.04 23.54 L402.39 23.52 L402.73 23.49 L403.08 23.47 L403.43 23.45 L403.77 23.43 L404.12 23.41 L404.47 23.39 L404.82 23.37 L405.16 23.35 L405.51 23.33 L405.86 23.30 L406.21 23.28 L406.56 23.26 L406.91 23.24 L407.25 23.22 L407.60 23.20 L407.95 23.18 L408.30 23.16 L408.65 23.14 L409.00 23.12 L409.35 23.10 L409.70 23.08 L410.05 23.06 L410.40 23.04 L410.75 23.01 L411.10 22.99 L411.46 22.97 L411.81 22.95 L412.16 22.93 L412.51 22.91 L412.86 22.89 L413.21 22.87 L413.57 22.85 L413.92 22.83 L414.27 22.81 L414.62 22.79 L414.98 22.77 L415.33 22.75 L415.68 22.73 L416.03 22.71 L416.39 22.69 L416.74 22.67 L417.10 22.65 L417.45 22.63 L417.80 22.61 L418.16 22.59 L418.51 22.57 L418.87 22.55 L419.22 22.53 L419.58 22.51 L419.93 22.49 L420.29 22.47 L420.64 22.45 L421.00 22.43 L421.35 22.41 L421.71 22.39 L422.07 22.37 L422.42 22.35 L422.78 22.33 L423.14 22.31 L423.49 22.29 L423.85 22.27 L424.21 22.25 L424.57 22.24 L424.92 22.22 L425.28 22.20 L425.64 22.18 L426.00 22.16 L426.35 22.14 L426.71 22.12 L427.07 22.10 L427.43 22.08 L427.79 22.06 L428.15 22.04 L428.51 22.02 L428.87 22.00 L429.23 21.98 L429.59 21.97 L429.95 21.95 L430.31 21.93 L430.67 21.91 L431.03 21.89 L431.39 21.87 L431.75 21.85 L432.11 21.83 L432.47 21.81 L432.83 21.80 L433.19 21.78 L433.56 21.76 L433.92 21.74 L434.28 21.72 L434.64 21.70 L435.00 21.68 L435.37 21.66 L435.73 21.65 L436.09 21.63 L436.46 21.61 L436.82 21.59 L437.18 21.57 L437.55 21.55 L437.91 21.53 L438.27 21.52 L438.64 21.50 L439.00 21.48 L439.37 21.46 L439.73 21.44 L440.09 21.42 L440.46 21.40 L440.82 21.39 L441.19 21.37 L441.56 21.35 L441.92 21.33 L442.29 21.31 L442.65 21.30 L443.02 21.28 L443.38 21.26 L443.75 21.24 L444.12 21.22 L444.48 21.20 L444.85 21.19 L445.22 21.17 L445.59 21.15 L445.95 21.13 L446.32 21.11 L446.69 21.10 L447.06 21.08 L447.42 21.06 L447.79 21.04 L448.16 21.03 L448.53 21.01 L448.90 20.99 L449.27 20.97 L449.64 20.95 L450.00 20.94 L450.37 20.92 L450.74 20.90 L451.11 20.88 L451.48 20.87 L451.85 20.85 L452.22 20.83 L452.59 20.81 L452.96 20.80 L453.33 20.78 L453.71 20.76 L454.08 20.74 L454.45 20.73 L454.82 20.71 L455.19 20.69 L455.56 20.67 L455.93 20.66 L456.31 20.64 L456.68 20.62 L457.05 20.60 L457.42 20.59 L457.80 20.57 L458.17 20.55 L458.54 20.54 L458.92 20.52 L459.29 20.50 L459.66 20.48 L460.04 20.47 L460.41 20.45 L460.78 20.43 L461.16 20.42 L461.53 20.40 L461.91 20.38 L462.28 20.37 L462.66 20.35 L463.03 20.33 L463.41 20.31 L463.78 20.30 L464.16 20.28 L464.53 20.26 L464.91 20.25 L465.28 20.23 L465.66 20.21 L466.04 20.20 L466.41 20.18 L466.79 20.16 L467.17 20.15 L467.54 20.13 L467.92 20.11 L468.30 20.10 L468.67 20.08 L469.05 20.06 L469.43 20.05 L469.81 20.03 L470.19 20.01 L470.56 20.00 L470.94 19.98 L471.32 19.97 L471.70 19.95 L472.08 19.93 L472.46 19.92 L472.84 19.90 L473.22 19.88 L473.60 19.87 L473.98 19.85 L474.36 19.83 L474.74 19.82 L475.12 19.80 L475.50 19.79 L475.88 19.77 L476.26 19.75 L476.64 19.74 L477.02 19.72 L477.40 19.71 L477.78 19.69 L478.16 19.67 L478.54 19.66 L478.93 19.64 L479.31 19.63 L479.69 19.61 L480.07 19.59 L480.45 19.58 L480.84 19.56 L481.22 19.55 L481.60 19.53 L481.99 19.51 L482.37 19.50 L482.75 19.48 L483.14 19.47 L483.52 19.45 L483.90 19.44 L484.29 19.42 L484.67 19.40 L485.06 19.39 L485.44 19.37 L485.82 19.36 L486.21 19.34 L486.59 19.33 L486.98 19.31 L487.36 19.29 L487.75 19.28 L488.14 19.26 L488.52 19.25 L488.91 19.23 L489.29 19.22 L489.68 19.20 L490.07 19.19 L490.45 19.17 L490.84 19.16 L491.23 19.14 L491.61 19.13 L492.00 19.11 L492.39 19.09 L492.77 19.08 L493.16 19.06 L493.55 19.05 L493.94 19.03 L494.33 19.02 L494.71 19.00 L495.10 18.99 L495.49 18.97 L495.88 18.96 L496.27 18.94 L496.66 18.93 L497.05 18.91 L497.44 18.90 L497.83 18.88 L498.22 18.87 L498.61 18.85 L499.00 18.84 L499.39 18.82 L499.78 18.81 L500.17 18.79 L500.56 18.78 L500.95 18.76 L501.34 18.75 L501.73 18.73 L502.12 18.72 L502.51 18.70 L502.90 18.69 L503.30 18.67 L503.69 18.66 L504.08 18.65 L504.47 18.63 L504.87 18.62 L505.26 18.60 L505.65 18.59 L506.04 18.57 L506.44 18.56 L506.83 18.54 L507.22 18.53 L507.62 18.51 L508.01 18.50 L508.40 18.48 L508.80 18.47 L509.19 18.46 L509.59 18.44 L509.98 18.43 L510.37 18.41 L510.77 18.40 L511.16 18.38 L511.56 18.37 L511.95 18.36 L512.35 18.34 L512.74 18.33 L513.14 18.31 L513.54 18.30 L513.93 18.28 L514.33 18.27 L514.72 18.26 L515.12 18.24 L515.52 18.23 L515.91 18.21 L516.31 18.20 L516.71 18.18 L517.10 18.17 L517.50 18.16 L517.90 18.14 L518.30 18.13 L518.70 18.11 L519.09 18.10 L519.49 18.09 L519.89 18.07 L520.29 18.06 L520.69 18.04 L521.09 18.03 L521.48 18.02 L521.88 18.00 L522.28 17.99 L522.68 17.97 L523.08 17.96 L523.48 17.95 L523.88 17.93 L524.28 17.92 L524.68 17.91 L525.08 17.89 L525.48 17.88 L525.88 17.86 L526.28 17.85 L526.68 17.84 L527.08 17.82 L527.48 17.81 L527.89 17.80 L528.29 17.78 L528.69 17.77 L529.09 17.76 L529.49 17.74 L529.90 17.73 L530.30 17.72 L530.70 17.70 L531.10 17.69 L531.50 17.67 L531.91 17.66 L532.31 17.65 L532.71 17.63 L533.12 17.62 L533.52 17.61 L533.92 17.59 L534.33 17.58 L534.73 17.57 L535.14 17.55 L535.54 17.54 L535.94 17.53 L536.35 17.51 L536.75 17.50 L537.16 17.49 L537.56 17.47 L537.97 17.46 L538.37 17.45 L538.78 17.43 L539.18 17.42 L539.59 17.41 L540.00 17.40 L540.40 17.38 L540.81 17.37 L541.21 17.36 L541.62 17.34 L542.03 17.33 L542.43 17.32 L542.84 17.30 L543.25 17.29 L543.66 17.28 L544.06 17.27 L544.47 17.25 L544.88 17.24 L545.29 17.23 L545.69 17.21 L546.10 17.20 L546.51 17.19 L546.92 17.17 L547.33 17.16 L547.74 17.15 L548.14 17.14 L548.55 17.12 L548.96 17.11 L549.37 17.10 L549.78 17.09 L550.19 17.07 L550.60 17.06 L551.01 17.05 L551.42 17.03 L551.83 17.02 L552.24 17.01 L552.65 17.00 L553.06 16.98 L553.47 16.97 L553.88 16.96 L554.30 16.95 L554.71 16.93 L555.12 16.92 L555.53 16.91 L555.94 16.90 L556.35 16.88 L556.76 16.87 L557.18 16.86 L557.59 16.85 L558.00 16.83 L558.41 16.82 L558.83 16.81 L559.24 16.80 L559.65 16.78 L560.07 16.77 L560.48 16.76 L560.89 16.75 L561.31 16.73 L561.72 16.72 L562.13 16.71 L562.55 16.70 L562.96 16.69 L563.38 16.67 L563.79 16.66 L564.21 16.65 L564.62 16.64 L565.04 16.62 L565.45 16.61 L565.87 16.60 L566.28 16.59 L566.70 16.58 L567.11 16.56 L567.53 16.55 L567.94 16.54 L568.36 16.53 L568.78 16.52 L569.19 16.50 L569.61 16.49 L570.03 16.48 L570.44 16.47 L570.86 16.46 L571.28 16.44 L571.69 16.43 L572.11 16.42 L572.53 16.41 L572.95 16.40 L573.37 16.38 L573.78 16.37 L574.20 16.36 L574.62 16.35 L575.04 16.34 L575.46 16.33 L575.88 16.31 L576.29 16.30 L576.71 16.29 L577.13 16.28 L577.55 16.27 L577.97 16.25 L578.39 16.24 L578.81 16.23 L579.23 16.22 L579.65 16.21 L580.07 16.20 L580.49 16.18 L580.91 16.17 L581.33 16.16 L581.75 16.15 L582.17 16.14 L582.60 16.13 L583.02 16.11 L583.44 16.10 L583.86 16.09 L584.28 16.08 L584.70 16.07 L585.13 16.06 L585.55 16.05 L585.97 16.03 L586.39 16.02 L586.81 16.01 L587.24 16.00 L587.66 15.99 L588.08 15.98 L588.51 15.97 L588.93 15.95 L589.35 15.94 L589.78 15.93 L590.20 15.92 L590.62 15.91 L591.05 15.90 L591.47 15.89 L591.90 15.88 L592.32 15.86 L592.75 15.85 L593.17 15.84 L593.60 15.83 L594.02 15.82 L594.45 15.81 L594.87 15.80 L595.30 15.79 L595.72 15.77 L596.15 15.76 L596.57 15.75 L597.00 15.74 L597.43 15.73 L597.85 15.72 L598.28 15.71 L598.70 15.70 L599.13 15.69 L599.56 15.67 L599.99 15.66 L600.41 15.65 L600.84 15.64 L601.27 15.63 L601.69 15.62 L602.12 15.61 L602.55 15.60 L602.98 15.59 L603.41 15.58 L603.83 15.56 L604.26 15.55 L604.69 15.54 L605.12 15.53 L605.55 15.52 L605.98 15.51 L606.41 15.50 L606.84 15.49 L607.27 15.48 L607.70 15.47 L608.13 15.46 L608.56 15.45 L608.99 15.44 L609.42 15.42 L609.85 15.41 L610.28 15.40 L610.71 15.39 L611.14 15.38 L611.57 15.37 L612.00 15.36 L612.43 15.35 L612.86 15.34 L613.29 15.33 L613.73 15.32 L614.16 15.31 L614.59 15.30 L615.02 15.29 L615.45 15.28 L615.89 15.26 L616.32 15.25 L616.75 15.24 L617.18 15.23 L617.62 15.22 L618.05 15.21 L618.48 15.20 L618.92 15.19 L619.35 15.18 L619.78 15.17 L620.22 15.16 L620.65 15.15 L621.08 15.14 L621.52 15.13 L621.95 15.12 L622.39 15.11 L622.82 15.10 L623.26 15.09 L623.69 15.08 L624.13 15.07 L624.56 15.06 L625.00 15.05 L625.43 15.04 L625.87 15.03 L626.30 15.02 L626.74 15.00 L627.17 14.99 L627.61 14.98 L628.05 14.97 L628.48 14.96 L628.92 14.95 L629.36 14.94 L629.79 14.93 L630.23 14.92 L630.67 14.91 L631.10 14.90 L631.54 14.89 L631.98 14.88 L632.42 14.87 L632.85 14.86 L633.29 14.85 L633.73 14.84 L634.17 14.83 L634.61 14.82 L635.05 14.81 L635.48 14.80 L635.92 14.79 L636.36 14.78 L636.80 14.77 L637.24 14.76 L637.68 14.75 L638.12 14.74 L638.56 14.73 L639.00 14.72 L639.44 14.71 L639.88 14.70 L640.32 14.69 L640.76 14.68 L641.20 14.67 L641.64 14.66 L642.08 14.65 L642.52 14.64 L642.96 14.63 L643.40 14.62 L643.84 14.61 L644.29 14.60 L644.73 14.59 L645.17 14.58 L645.61 14.57 L646.05 14.57 L646.49 14.56 L646.94 14.55 L647.38 14.54 L647.82 14.53 L648.26 14.52 L648.71 14.51 L649.15 14.50 L649.59 14.49 L650.04 14.48 L650.48 14.47 L650.92 14.46 L651.37 14.45 L651.81 14.44 L652.25 14.43 L652.70 14.42 L653.14 14.41 L653.59 14.40 L654.03 14.39 L654.48 14.38 L654.92 14.37 L655.36 14.36 L655.81 14.35 L656.26 14.34 L656.70 14.33 L657.15 14.32 L657.59 14.32 L658.04 14.31 L658.48 14.30 L658.93 14.29 L659.37 14.28 L659.82 14.27 L660.27 14.26 L660.71 14.25 L661.16 14.24 L661.61 14.23 L662.05 14.22 L662.50 14.21 L662.95 14.20 L663.40 14.19 L663.84 14.18 L664.29 14.17 L664.74 14.17 L665.19 14.16 L665.63 14.15 L666.08 14.14 L666.53 14.13 L666.98 14.12 L667.43 14.11 L667.88 14.10 L668.33 14.09 L668.77 14.08 L669.22 14.07 L669.67 14.06 L670.12 14.05 L670.57 14.05 L671.02 14.04 L671.47 14.03 L671.92 14.02 L672.37 14.01 L672.82 14.00 L673.27 13.99 L673.72 13.98 L674.17 13.97 L674.62 13.96 L675.07 13.95 L675.52 13.95 L675.98 13.94 L676.43 13.93 L676.88 13.92 L677.33 13.91 L677.78 13.90 L678.23 13.89 L678.69 13.88 L679.14 13.87 L679.59 13.86 L680.04 13.86 L680.49 13.85 L680.95 13.84 L681.40 13.83 L681.85 13.82 L682.31 13.81 L682.76 13.80 L683.21 13.79 L683.67 13.78 L684.12 13.78 L684.57 13.77 L685.03 13.76 L685.48 13.75 L685.93 13.74 L686.39 13.73 L686.84 13.72 L687.30 13.71 L687.75 13.70 L688.21 13.70 L688.66 13.69 L689.12 13.68 L689.57 13.67 L690.03 13.66 L690.48 13.65 L690.94 13.64 L691.39 13.63 L691.85 13.63 L692.31 13.62 L692.76 13.61 L693.22 13.60 L693.68 13.59 L694.13 13.58 L694.59 13.57 L695.05 13.57 L695.50 13.56 L695.96 13.55 L696.42 13.54 L696.87 13.53 L697.33 13.52 L697.79 13.51 L698.25 13.51 L698.70 13.50 L699.16 13.49 L699.62 13.48 L700.08 13.47 L700.54 13.46 L701.00 13.45 L701.45 13.45 L701.91 13.44 L702.37 13.43 L702.83 13.42 L703.29 13.41 L703.75 13.40 L704.21 13.39 L704.67 13.39 L705.13 13.38 L705.59 13.37 L706.05 13.36 L706.51 13.35 L706.97 13.34 L707.43 13.34 L707.89 13.33 L708.35 13.32 L708.81 13.31 L709.27 13.30 L709.73 13.29 L710.19 13.29 L710.66 13.28 L711.12 13.27 L711.58 13.26 L712.04 13.25 L712.50 13.24 L712.96 13.24 L713.43 13.23 L713.89 13.22 L714.35 13.21 L714.81 13.20 L715.28 13.19 L715.74 13.19 L716.20 13.18 L716.67 13.17 L717.13 13.16 L717.59 13.15 L718.05 13.15 L718.52 13.14 L718.98 13.13 L719.45 13.12 L719.91 13.11 L720.37 13.10 L720.84 13.10 L721.30 13.09 L721.77 13.08 L722.23 13.07 L722.70 13.06 L723.16 13.06 L723.63 13.05 L724.09 13.04 L724.56 13.03 L725.02 13.02 L725.49 13.02 L725.95 13.01 L726.42 13.00 L726.89 12.99 L727.35 12.98 L727.82 12.98 L728.28 12.97 L728.75 12.96 L729.22 12.95 L729.68 12.94 L730.15 12.94 L730.62 12.93 L731.08 12.92 L731.55 12.91 L732.02 12.90 L732.49 12.90 L732.95 12.89 L733.42 12.88 L733.89 12.87 L734.36 12.86 L734.83 12.86 L735.29 12.85 L735.76 12.84 L736.23 12.83 L736.70 12.83 L737.17 12.82 L737.64 12.81 L738.11 12.80 L738.58 12.79 L739.05 12.79 L739.52 12.78 L739.99 12.77 L740.45 12.76 L740.92 12.76 L741.39 12.75 L741.86 12.74 L742.34 12.73 L742.81 12.72 L743.28 12.72 L743.75 12.71 L744.22 12.70 L744.69 12.69 L745.16 12.69 L745.63 12.68 L746.10 12.67 L746.57 12.66 L747.04 12.66 L747.52 12.65 L747.99 12.64 L748.46 12.63 L748.93 12.62 L749.40 12.62 L749.88 12.61 L750.35 12.60 L750.82 12.59 L751.29 12.59 L751.77 12.58 L752.24 12.57 L752.71 12.56 L753.19 12.56 L753.66 12.55 L754.13 12.54 L754.61 12.53 L755.08 12.53 L755.56 12.52 L756.03 12.51 L756.50 12.50 L756.98 12.50 L757.45 12.49 L757.93 12.48 L758.40 12.47 L758.88 12.47 L759.35 12.46 L759.83 12.45 L760.30 12.44 L760.78 12.44 L761.25 12.43 L761.73 12.42 L762.20 12.41 L762.68 12.41 L763.16 12.40 L763.63 12.39 L764.11 12.39 L764.58 12.38 L765.06 12.37 L765.54 12.36 L766.01 12.36 L766.49 12.35 L766.97 12.34 L767.44 12.33 L767.92 12.33 L768.40 12.32 L768.88 12.31 L769.35 12.30 L769.83 12.30 L770.31 12.29 L770.79 12.28 L771.27 12.28 L771.74 12.27 L772.22 12.26 L772.70 12.25 L773.18 12.25 L773.66 12.24 L774.14 12.23 L774.62 12.22 L775.10 12.22 L775.57 12.21 L776.05 12.20 L776.53 12.20 L777.01 12.19 L777.49 12.18 L777.97 12.17 L778.45 12.17 L778.93 12.16 L779.41 12.15 L779.89 12.15 L780.37 12.14 L780.86 12.13 L781.34 12.12 L781.82 12.12 L782.30 12.11 L782.78 12.10 L783.26 12.10 L783.74 12.09 L784.22 12.08 L784.71 12.08 L785.19 12.07 L785.67 12.06 L786.15 12.05 L786.63 12.05 L787.12 12.04 L787.60 12.03 L788.08 12.03 L788.56 12.02 L789.05 12.01 L789.53 12.01 L790.01 12.00 L790.50 11.99 L790.98 11.98 L791.46 11.98 L791.95 11.97 L792.43 11.96 L792.91 11.96 L793.40 11.95 L793.88 11.94 L794.37 11.94 L794.85 11.93 L795.34 11.92 L795.82 11.92 L796.30 11.91 L796.79 11.90 L797.27 11.89 L797.76 11.89 L798.24 11.88 L798.73 11.87 L799.22 11.87 L799.70 11.86 L800.19 11.85 L800.67 11.85 L801.16 11.84 L801.65 11.83 L802.13 11.83 L802.62 11.82 L803.10 11.81 L803.59 11.81 L804.08 11.80 L804.56 11.79 L805.05 11.79 L805.54 11.78 L806.03 11.77 L806.51 11.77 L807.00 11.76 L807.49 11.75 L807.98 11.75 L808.46 11.74 L808.95 11.73 L809.44 11.73 L809.93 11.72 L810.42 11.71 L810.91 11.70 L811.39 11.70 L811.88 11.69 L812.37 11.68 L812.86 11.68 L813.35 11.67 L813.84 11.67 L814.33 11.66 L814.82 11.65 L815.31 11.65 L815.80 11.64 L816.29 11.63 L816.78 11.63 L817.27 11.62 L817.76 11.61 L818.25 11.61 L818.74 11.60 L819.23 11.59 L819.72 11.59 L820.21 11.58 L820.70 11.57 L821.19 11.57 L821.68 11.56 L822.18 11.55 L822.67 11.55 L823.16 11.54 L823.65 11.53 L824.14 11.53 L824.63 11.52 L825.13 11.51 L825.62 11.51 L826.11 11.50 L826.60 11.49 L827.10 11.49 L827.59 11.48 L828.08 11.48 L828.58 11.47 L829.07 11.46 L829.56 11.46 L830.06 11.45 L830.55 11.44 L831.04 11.44 L831.54 11.43 L832.03 11.42 L832.52 11.42 L833.02 11.41 L833.51 11.41 L834.01 11.40 L834.50 11.39 L835.00 11.39 L835.49 11.38 L835.99 11.37 L836.48 11.37 L836.98 11.36 L837.47 11.35 L837.97 11.35 L838.46 11.34 L838.96 11.34 L839.45 11.33 L839.95 11.32 L840.44 11.32 L840.94 11.31 L841.44 11.30 L841.93 11.30 L842.43 11.29 L842.93 11.29 L843.42 11.28 L843.92 11.27 L844.42 11.27 L844.91 11.26 L845.41 11.25 L845.91 11.25 L846.41 11.24 L846.90 11.24 L847.40 11.23 L847.90 11.22 L848.40 11.22 L848.90 11.21 L849.39 11.20 L849.89 11.20 L850.39 11.19 L850.89 11.19 L851.39 11.18 L851.89 11.17 L852.39 11.17 L852.88 11.16 L853.38 11.16 L853.88 11.15 L854.38 11.14 L854.88 11.14 L855.38 11.13 L855.88 11.12 L856.38 11.12 L856.88 11.11 L857.38 11.11 L857.88 11.10 L858.38 11.09 L858.88 11.09 L859.38 11.08 L859.88 11.08 L860.38 11.07 L860.89 11.06 L861.39 11.06 L861.89 11.05 L862.39 11.05 L862.89 11.04 L863.39 11.03 L863.89 11.03 L864.40 11.02 L864.90 11.02 L865.40 11.01 L865.90 11.00 L866.41 11.00 L866.91 10.99 L867.41 10.99 L867.91 10.98 L868.42 10.97 L868.92 10.97 L869.42 10.96 L869.93 10.96 L870.43 10.95 L870.93 10.94 L871.44 10.94 L871.94 10.93 L872.44 10.93 L872.95 10.92 L873.45 10.91 L873.96 10.91 L874.46 10.90 L874.96 10.90 L875.47 10.89 L875.97 10.89 L876.48 10.88 L876.98 10.87 L877.49 10.87 L877.99 10.86 L878.50 10.86 L879.00 10.85 L879.51 10.84 L880.01 10.84 L880.52 10.83 L881.03 10.83 L881.53 10.82 L882.04 10.82 L882.54 10.81 L883.05 10.80 L883.56 10.80 L884.06 10.79 L884.57 10.79 L885.08 10.78 L885.58 10.77 L886.09 10.77 L886.60 10.76 L887.11 10.76 L887.61 10.75 L888.12 10.75 L888.63 10.74 L889.14 10.73 L889.64 10.73 L890.15 10.72 L890.66 10.72 L891.17 10.71 L891.68 10.71 L892.19 10.70 L892.69 10.69 L893.20 10.69 L893.71 10.68 L894.22 10.68 L894.73 10.67 L895.24 10.67 L895.75 10.66 L896.26 10.66 L896.77 10.65 L897.28 10.64 L897.79 10.64 L898.30 10.63 L898.81 10.63 L899.32 10.62 L899.83 10.62 L900.34 10.61 L900.85 10.60 L901.36 10.60 L901.87 10.59 L902.38 10.59 L902.89 10.58 L903.40 10.58 L903.92 10.57 L904.43 10.57 L904.94 10.56 L905.45 10.55 L905.96 10.55 L906.47 10.54 L906.99 10.54 L907.50 10.53 L908.01 10.53 L908.52 10.52 L909.04 10.52 L909.55 10.51 L910.06 10.50 L910.57 10.50 L911.09 10.49 L911.60 10.49 L912.11 10.48 L912.63 10.48 L913.14 10.47 L913.65 10.47 L914.17 10.46 L914.68 10.46 L915.19 10.45 L915.71 10.44 L916.22 10.44 L916.74 10.43 L917.25 10.43 L917.77 10.42 L918.28 10.42 L918.80 10.41 L919.31 10.41 L919.83 10.40 L920.34 10.40 L920.86 10.39 L921.37 10.38 L921.89 10.38 L922.40 10.37 L922.92 10.37 L923.43 10.36 L923.95 10.36 L924.47 10.35 L924.98 10.35 L925.50 10.34 L926.01 10.34 L926.53 10.33 L927.05 10.33 L927.56 10.32 L928.08 10.32 L928.60 10.31 L929.12 10.30 L929.63 10.30 L930.15 10.29 L930.67 10.29 L931.18 10.28 L931.70 10.28 L932.22 10.27 L932.74 10.27 L933.26 10.26 L933.77 10.26 L934.29 10.25 L934.81 10.25 L935.33 10.24 L935.85 10.24 L936.37 10.23 L936.89 10.23 L937.41 10.22 L937.92 10.21 L938.44 10.21 L938.96 10.20 L939.48 10.20 L940.00 10.19 L940.52 10.19 L941.04 10.18 L941.56 10.18 L942.08 10.17 L942.60 10.17 L943.12 10.16 L943.64 10.16 L944.16 10.15 L944.68 10.15 L945.20 10.14 L945.73 10.14 L946.25 10.13 L946.77 10.13 L947.29 10.12 L947.81 10.12 L948.33 10.11 L948.85 10.11 L949.38 10.10 L949.90 10.10 L950.42 10.09 L950.94 10.09 L951.46 10.08 L951.99 10.08 L952.51 10.07 L953.03 10.07 L953.55 10.06 L954.08 10.06 L954.60 10.05 L955.12 10.04 L955.64 10.04 L956.17 10.03 L956.69 10.03 L957.22 10.02 L957.74 10.02 L958.26 10.01 L958.79 10.01 L959.31 10.00 L959.83 10.00 L960.36 9.99 L960.88 9.99 L961.41 9.98 L961.93 9.98 L962.46 9.97 L962.98 9.97 L963.51 9.96 L964.03 9.96 L964.56 9.95 L965.08 9.95 L965.61 9.94 L966.13 9.94 L966.66 9.93 L967.18 9.93 L967.71 9.92 L968.24 9.92 L968.76 9.91 L969.29 9.91 L969.81 9.90 L970.34 9.90 L970.87 9.89 L971.39 9.89 L971.92 9.88 L972.45 9.88 L972.97 9.88 L973.50 9.87 L974.03 9.87 L974.56 9.86 L975.08 9.86 L975.61 9.85 L976.14 9.85 L976.67 9.84 L977.19 9.84 L977.72 9.83 L978.25 9.83 L978.78 9.82 L979.31 9.82 L979.83 9.81 L980.36 9.81 L980.89 9.80 L981.42 9.80 L981.95 9.79 L982.48 9.79 L983.01 9.78 L983.54 9.78 L984.07 9.77 L984.60 9.77 L985.13 9.76 L985.66 9.76 L986.19 9.75 L986.72 9.75 L987.25 9.74 L987.78 9.74 L988.31 9.73 L988.84 9.73 L989.37 9.72 L989.90 9.72 L990.43 9.72 L990.96 9.71 L991.49 9.71 L992.02 9.70 L992.55 9.70 L993.08 9.69 L993.62 9.69 L994.15 9.68 L994.68 9.68 L995.21 9.67 L995.74 9.67 L996.28 9.66 L996.81 9.66 L997.34 9.65 L997.87 9.65 L998.40 9.64 L998.94 9.64 L999.47 9.63 L1000.00 9.63 L1000.54 9.63 L1001.07 9.62 L1001.60 9.62 L1002.14 9.61 L1002.67 9.61 L1003.20 9.60 L1003.74 9.60 L1004.27 9.59 L1004.80 9.59 L1005.34 9.58 L1005.87 9.58 L1006.41 9.57 L1006.94 9.57 L1007.48 9.56 L1008.01 9.56 L1008.54 9.56 L1009.08 9.55 L1009.61 9.55 L1010.15 9.54 L1010.68 9.54 L1011.22 9.53 L1011.75 9.53 L1012.29 9.52 L1012.83 9.52 L1013.36 9.51 L1013.90 9.51 L1014.43 9.50 L1014.97 9.50 L1015.51 9.50 L1016.04 9.49 L1016.58 9.49 L1017.12 9.48 L1017.65 9.48 L1018.19 9.47 L1018.73 9.47 L1019.26 9.46 L1019.80 9.46 L1020.34 9.45 L1020.87 9.45 L1021.41 9.44 L1021.95 9.44 L1022.49 9.44 L1023.02 9.43 L1023.56 9.43 L1024.10 9.42 L1024.64 9.42 L1025.18 9.41 L1025.72 9.41 L1026.25 9.40 L1026.79 9.40 L1027.33 9.40 L1027.87 9.39 L1028.41 9.39 L1028.95 9.38 L1029.49 9.38 L1030.03 9.37 L1030.57 9.37 L1031.10 9.36 L1031.64 9.36 L1032.18 9.36 L1032.72 9.35 L1033.26 9.35 L1033.80 9.34 L1034.34 9.34 L1034.88 9.33 L1035.42 9.33 L1035.97 9.32 L1036.51 9.32 L1037.05 9.32 L1037.59 9.31 L1038.13 9.31 L1038.67 9.30 L1039.21 9.30 L1039.75 9.29 L1040.29 9.29 L1040.83 9.28 L1041.38 9.28 L1041.92 9.28 L1042.46 9.27 L1043.00 9.27 L1043.54 9.26 L1044.09 9.26 L1044.63 9.25 L1045.17 9.25 L1045.71 9.24 L1046.26 9.24 L1046.80 9.24 L1047.34 9.23 L1047.89 9.23 L1048.43 9.22 L1048.97 9.22 L1049.51 9.21 L1050.06 9.21 L1050.60 9.21 L1051.15 9.20 L1051.69 9.20 L1052.23 9.19 L1052.78 9.19 L1053.32 9.18 L1053.87 9.18 L1054.41 9.18 L1054.95 9.17 L1055.50 9.17 L1056.04 9.16 L1056.59 9.16 L1057.13 9.15 L1057.68 9.15 L1058.22 9.15 L1058.77 9.14 L1059.31 9.14 L1059.86 9.13 L1060.40 9.13 L1060.95 9.12 L1061.50 9.12 L1062.04 9.12 L1062.59 9.11 L1063.13 9.11 L1063.68 9.10 L1064.23 9.10 L1064.77 9.09 L1065.32 9.09 L1065.87 9.09 L1066.41 9.08 L1066.96 9.08 L1067.51 9.07 L1068.05 9.07 L1068.60 9.06 L1069.15 9.06 L1069.70 9.06 L1070.24 9.05 L1070.79 9.05 L1071.34 9.04 L1071.89 9.04 L1072.44 9.04 L1072.98 9.03 L1073.53 9.03 L1074.08 9.02 L1074.63 9.02 L1075.18 9.01 L1075.73 9.01 L1076.28 9.01 L1076.82 9.00 L1077.37 9.00 L1077.92 8.99 L1078.47 8.99 L1079.02 8.99 L1079.57 8.98 L1080.12 8.98 L1080.67 8.97 L1081.22 8.97 L1081.77 8.96 L1082.32 8.96 L1082.87 8.96 L1083.42 8.95 L1083.97 8.95 L1084.52 8.94 L1085.07 8.94 L1085.62 8.94 L1086.17 8.93 L1086.72 8.93 L1087.28 8.92 L1087.83 8.92 L1088.38 8.92 L1088.93 8.91 L1089.48 8.91 L1090.03 8.90 L1090.58 8.90 L1091.14 8.90 L1091.69 8.89 L1092.24 8.89 L1092.79 8.88 L1093.34 8.88 L1093.90 8.88 L1094.45 8.87 L1095.00 8.87 L1095.55 8.86 L1096.11 8.86 L1096.66 8.85 L1097.21 8.85 L1097.77 8.85 L1098.32 8.84 L1098.87 8.84 L1099.43 8.83 L1099.98 8.83 L1100.53 8.83 L1101.09 8.82 L1101.64 8.82 L1102.20 8.81 L1102.75 8.81 L1103.30 8.81 L1103.86 8.80 L1104.41 8.80 L1104.97 8.79 L1105.52 8.79 L1106.08 8.79 L1106.63 8.78 L1107.19 8.78 L1107.74 8.78 L1108.30 8.77 L1108.85 8.77 L1109.41 8.76 L1109.96 8.76 L1110.52 8.76 L1111.08 8.75 L1111.63 8.75 L1112.19 8.74 L1112.74 8.74 L1113.30 8.74 L1113.86 8.73 L1114.41 8.73 L1114.97 8.72 L1115.53 8.72 L1116.08 8.72 L1116.64 8.71 L1117.20 8.71 L1117.75 8.70 L1118.31 8.70 L1118.87 8.70 L1119.43 8.69 L1119.98 8.69 L1120.54 8.68 L1121.10 8.68 L1121.66 8.68 L1122.21 8.67 L1122.77 8.67 L1123.33 8.67 L1123.89 8.66 L1124.45 8.66 L1125.01 8.65 L1125.56 8.65 L1126.12 8.65 L1126.68 8.64 L1127.24 8.64 L1127.80 8.63 L1128.36 8.63 L1128.92 8.63 L1129.48 8.62 L1130.04 8.62 L1130.60 8.62 L1131.16 8.61 L1131.72 8.61 L1132.28 8.60 L1132.84 8.60 L1133.40 8.60 L1133.96 8.59 L1134.52 8.59 L1135.08 8.58 L1135.64 8.58 L1136.20 8.58 L1136.76 8.57 L1137.32 8.57 L1137.88 8.57 L1138.44 8.56 L1139.01 8.56 L1139.57 8.55 L1140.13 8.55 L1140.69 8.55 L1141.25 8.54 L1141.81 8.54 L1142.38 8.54 L1142.94 8.53 L1143.50 8.53 L1144.06 8.52 L1144.62 8.52 L1145.19 8.52 L1145.75 8.51 L1146.31 8.51 L1146.87 8.51 L1147.44 8.50 L1148.00 8.50 L1148.56 8.49 L1149.13 8.49 L1149.69 8.49 L1150.25 8.48 L1150.82 8.48 L1151.38 8.48 L1151.95 8.47 L1152.51 8.47 L1153.07 8.46 L1153.64 8.46 L1154.20 8.46 L1154.77 8.45 L1155.33 8.45 L1155.89 8.45 L1156.46 8.44 L1157.02 8.44 L1157.59 8.44 L1158.15 8.43 L1158.72 8.43 L1159.28 8.42 L1159.85 8.42 L1160.41 8.42 L1160.98 8.41 L1161.55 8.41 L1162.11 8.41 L1162.68 8.40 L1163.24 8.40 L1163.81 8.39 L1164.38 8.39 L1164.94 8.39 L1165.51 8.38 L1166.07 8.38 L1166.64 8.38 L1167.21 8.37 L1167.78 8.37 L1168.34 8.37 L1168.91 8.36 L1169.48 8.36 L1170.04 8.35 L1170.61 8.35 L1171.18 8.35 L1171.75 8.34 L1172.31 8.34 L1172.88 8.34 L1173.45 8.33 L1174.02 8.33 L1174.59 8.33 L1175.15 8.32 L1175.72 8.32 L1176.29 8.32 L1176.86 8.31 L1177.43 8.31 L1178.00 8.30 L1178.57 8.30 L1179.13 8.30 L1179.70 8.29 L1180.27 8.29 L1180.84 8.29 L1181.41 8.28 L1181.98 8.28 L1182.55 8.28 L1183.12 8.27 L1183.69 8.27 L1184.26 8.27 L1184.83 8.26 L1185.40 8.26 L1185.97 8.25 L1186.54 8.25 L1187.11 8.25 L1187.68 8.24 L1188.25 8.24 L1188.82 8.24 L1189.39 8.23 L1189.96 8.23 L1190.54 8.23 L1191.11 8.22 L1191.68 8.22 L1192.25 8.22 L1192.82 8.21 L1193.39 8.21 L1193.97 8.21 L1194.54 8.20 L1195.11 8.20 L1195.68 8.20 L1196.25 8.19 L1196.83 8.19 L1197.40 8.18 L1197.97 8.18 L1198.54 8.18 L1199.12 8.17 L1199.69 8.17 L1200.26 8.17 L1200.83 8.16 L1201.41 8.16 L1201.98 8.16 L1202.55 8.15 L1203.13 8.15 L1203.70 8.15 L1204.28 8.14 L1204.85 8.14 L1205.42 8.14 L1206.00 8.13 L1206.57 8.13 L1207.15 8.13 L1207.72 8.12 L1208.29 8.12 L1208.87 8.12 L1209.44 8.11 L1210.02 8.11 L1210.59 8.11 L1211.17 8.10 L1211.74 8.10 L1212.32 8.10 L1212.89 8.09 L1213.47 8.09 L1214.04 8.09 L1214.62 8.08 L1215.20 8.08 L1215.77 8.07 L1216.35 8.07 L1216.92 8.07 L1217.50 8.06 L1218.08 8.06 L1218.65 8.06 L1219.23 8.05 L1219.80 8.05 L1220.38 8.05 L1220.96 8.04 L1221.54 8.04 L1222.11 8.04 L1222.69 8.03 L1223.27 8.03 L1223.84 8.03 L1224.42 8.02 L1225.00 8.02 L1225.58 8.02 L1226.15 8.01 L1226.73 8.01 L1227.31 8.01 L1227.89 8.00 L1228.47 8.00 L1229.04 8.00 L1229.62 7.99 L1230.20 7.99 L1230.78 7.99 L1231.36 7.98 L1231.94 7.98 L1232.52 7.98 L1233.10 7.97 L1233.67 7.97 L1234.25 7.97 L1234.83 7.96 L1235.41 7.96 L1235.99 7.96 L1236.57 7.95 L1237.15 7.95 L1237.73 7.95 L1238.31 7.94 L1238.89 7.94 L1239.47 7.94 L1240.05 7.93 L1240.63 7.93 L1241.21 7.93 L1241.79 7.92 L1242.37 7.92 L1242.95 7.92 L1243.54 7.92 L1244.12 7.91 L1244.70 7.91 L1245.28 7.91 L1245.86 7.90 L1246.44 7.90 L1247.02 7.90 L1247.60 7.89 L1248.19 7.89 L1248.77 7.89 L1249.35 7.88 L1249.93 7.88 L1250.51 7.88 L1251.10 7.87 L1251.68 7.87 L1252.26 7.87 L1252.84 7.86 L1253.43 7.86 L1254.01 7.86 L1254.59 7.85 L1255.18 7.85 L1255.76 7.85 L1256.34 7.84 L1256.92 7.84 L1257.51 7.84 L1258.09 7.83 L1258.68 7.83 L1259.26 7.83 L1259.84 7.82 L1260.43 7.82 L1261.01 7.82 L1261.60 7.82 L1262.18 7.81 L1262.76 7.81 L1263.35 7.81 L1263.93 7.80 L1264.52 7.80 L1265.10 7.80 L1265.69 7.79 L1266.27 7.79 L1266.86 7.79 L1267.44 7.78 L1268.03 7.78 L1268.61 7.78 L1269.20 7.77 L1269.78 7.77 L1270.37 7.77 L1270.96 7.76 L1271.54 7.76 L1272.13 7.76 L1272.71 7.76 L1273.30 7.75 L1273.89 7.75 L1274.47 7.75 L1275.06 7.74 L1275.65 7.74 L1276.23 7.74 L1276.82 7.73 L1277.41 7.73 L1277.99 7.73 L1278.58 7.72 L1279.17 7.72 L1279.76 7.72 L1280.34 7.71 L1280.93 7.71 L1281.52 7.71 L1282.11 7.71 L1282.69 7.70 L1283.28 7.70 L1283.87 7.70 L1284.46 7.69 L1285.05 7.69 L1285.64 7.69 L1286.22 7.68 L1286.81 7.68 L1287.40 7.68 L1287.99 7.67 L1288.58 7.67 L1289.17 7.67 L1289.76 7.67 L1290.35 7.66 L1290.94 7.66 L1291.53 7.66 L1292.12 7.65 L1292.70 7.65 L1293.29 7.65 L1293.88 7.64 L1294.47 7.64 L1295.06 7.64 L1295.65 7.63 L1296.25 7.63 L1296.84 7.63 L1297.43 7.63 L1298.02 7.62 L1298.61 7.62 L1299.20 7.62 L1299.79 7.61 L1300.38 7.61 L1300.97 7.61 L1301.56 7.60 L1302.15 7.60 L1302.75 7.60 L1303.34 7.59 L1303.93 7.59 L1304.52 7.59 L1305.11 7.59 L1305.70 7.58 L1306.30 7.58 L1306.89 7.58 L1307.48 7.57 L1308.07 7.57 L1308.67 7.57 L1309.26 7.56 L1309.85 7.56 L1310.44 7.56 L1311.04 7.56 L1311.63 7.55 L1312.22 7.55 L1312.82 7.55 L1313.41 7.54 L1314.00 7.54 L1314.60 7.54 L1315.19 7.54 L1315.78 7.53 L1316.38 7.53 L1316.97 7.53 L1317.57 7.52 L1318.16 7.52 L1318.75 7.52 L1319.35 7.51 L1319.94 7.51 L1320.54 7.51 L1321.13 7.51 L1321.73 7.50 L1322.32 7.50 L1322.92 7.50 L1323.51 7.49 L1324.11 7.49 L1324.70 7.49 L1325.30 7.48 L1325.89 7.48 L1326.49 7.48 L1327.08 7.48 L1327.68 7.47 L1328.28 7.47 L1328.87 7.47 L1329.47 7.46 L1330.06 7.46 L1330.66 7.46 L1331.26 7.46 L1331.85 7.45 L1332.45 7.45 L1333.05 7.45 L1333.64 7.44 L1334.24 7.44 L1334.84 7.44 L1335.43 7.44 L1336.03 7.43 L1336.63 7.43 L1337.23 7.43 L1337.82 7.42 L1338.42 7.42 L1339.02 7.42 L1339.62 7.42 L1340.21 7.41 L1340.81 7.41 L1341.41 7.41 L1342.01 7.40 L1342.61 7.40 L1343.21 7.40 L1343.80 7.39 L1344.40 7.39 L1345.00 7.39 L1345.60 7.39 L1346.20 7.38 L1346.80 7.38 L1347.40 7.38 L1348.00 7.37 L1348.60 7.37 L1349.20 7.37 L1349.79 7.37 L1350.39 7.36 L1350.99 7.36 L1351.59 7.36 L1352.19 7.35 L1352.79 7.35 L1353.39 7.35 L1353.99 7.35 L1354.60 7.34 L1355.20 7.34 L1355.80 7.34 L1356.40 7.34 L1357.00 7.33 L1357.60 7.33 L1358.20 7.33 L1358.80 7.32 L1359.40 7.32 L1360.00 7.32 L1360.60 7.32 L1361.21 7.31 L1361.81 7.31 L1362.41 7.31 L1363.01 7.30 L1363.61 7.30 L1364.22 7.30 L1364.82 7.30 L1365.42 7.29 L1366.02 7.29 L1366.62 7.29 L1367.23 7.28 L1367.83 7.28 L1368.43 7.28 L1369.03 7.28 L1369.64 7.27 L1370.24 7.27 L1370.84 7.27 L1371.45 7.27 L1372.05 7.26 L1372.65 7.26 L1373.26 7.26 L1373.86 7.25 L1374.46 7.25 L1375.07 7.25 L1375.67 7.25 L1376.28 7.24 L1376.88 7.24 L1377.49 7.24 L1378.09 7.23 L1378.69 7.23 L1379.30 7.23 L1379.90 7.23 L1380.51 7.22 L1381.11 7.22 L1381.72 7.22 L1382.32 7.22 L1382.93 7.21 L1383.53 7.21 L1384.14 7.21 L1384.74 7.20 L1385.35 7.20 L1385.96 7.20 L1386.56 7.20 L1387.17 7.19 L1387.77 7.19" fill="none" stroke="#000" stroke-width="2.3" stroke-linejoin="round"/>
<path d="M-4.65 619.54 L-3.95 619.21 L-3.25 618.89 L-2.56 618.56 L-1.86 618.24 L-1.16 617.91 L-0.47 617.59 L0.23 617.27 L0.92 616.94 L1.62 616.62 L2.32 616.30 L3.01 615.98 L3.71 615.66 L4.41 615.34 L5.10 615.02 L5.80 614.69 L6.49 614.37 L7.19 614.05 L7.89 613.74 L8.58 613.42 L9.28 613.10 L9.98 612.78 L10.67 612.46 L11.37 612.14 L12.06 611.83 L12.76 611.51 L13.46 611.19 L14.15 610.88 L14.85 610.56 L15.54 610.24 L16.24 609.93 L16.94 609.61 L17.63 609.30 L18.33 608.98 L19.03 608.67 L19.72 608.36 L20.42 608.04 L21.11 607.73 L21.81 607.42 L22.51 607.10 L23.20 606.79 L23.90 606.48 L24.60 606.17 L25.29 605.86 L25.99 605.55 L26.68 605.24 L27.38 604.93 L28.08 604.62 L28.77 604.31 L29.47 604.00 L30.17 603.69 L30.86 603.38 L31.56 603.07 L32.25 602.76 L32.95 602.45 L33.65 602.15 L34.34 601.84 L35.04 601.53 L35.73 601.23 L36.43 600.92 L37.13 600.61 L37.82 600.31 L38.52 600.00 L39.22 599.70 L39.91 599.39 L40.61 599.09 L41.30 598.79 L42.00 598.48 L42.70 598.18 L43.39 597.88 L44.09 597.57 L44.79 597.27 L45.48 596.97 L46.18 596.67 L46.87 596.37 L47.57 596.06 L48.27 595.76 L48.96 595.46 L49.66 595.16 L50.36 594.86 L51.05 594.56 L51.75 594.26 L52.44 593.96 L53.14 593.67 L53.84 593.37 L54.53 593.07 L55.23 592.77 L55.92 592.47 L56.62 592.18 L57.32 591.88 L58.01 591.58 L58.71 591.29 L59.41 590.99 L60.10 590.69 L60.80 590.40 L61.49 590.10 L62.19 589.81 L62.89 589.51 L63.58 589.22 L64.28 588.93 L64.98 588.63 L65.67 588.34 L66.37 588.04 L67.06 587.75 L67.76 587.46 L68.46 587.17 L69.15 586.87 L69.85 586.58 L70.55 586.29 L71.24 586.00 L71.94 585.71 L72.63 585.42 L73.33 585.13 L74.03 584.84 L74.72 584.55 L75.42 584.26 L76.11 583.97 L76.81 583.68 L77.51 583.39 L78.20 583.11 L78.90 582.82 L79.60 582.53 L80.29 582.24 L80.99 581.96 L81.68 581.67 L82.38 581.38 L83.08 581.10 L83.77 580.81 L84.47 580.52 L85.17 580.24 L85.86 579.95 L86.56 579.67 L87.25 579.38 L87.95 579.10 L88.65 578.82 L89.34 578.53 L90.04 578.25 L90.74 577.97 L91.43 577.68 L92.13 577.40 L92.82 577.12 L93.52 576.84 L94.22 576.55 L94.91 576.27 L95.61 575.99 L96.31 575.71 L97.00 575.43 L97.70 575.15 L98.39 574.87 L99.09 574.59 L99.79 574.31 L100.48 574.03 L101.18 573.75 L101.87 573.47 L102.57 573.19 L103.27 572.92 L103.96 572.64 L104.66 572.36 L105.36 572.08 L106.05 571.80 L106.75 571.53 L107.44 571.25 L108.14 570.97 L108.84 570.70 L109.53 570.42 L110.23 570.15 L110.93 569.87 L111.62 569.60 L112.32 569.32 L113.01 569.05 L113.71 568.77 L114.41 568.50 L115.10 568.23 L115.80 567.95 L116.50 567.68 L117.19 567.41 L117.89 567.13 L118.58 566.86 L119.28 566.59 L119.98 566.32 L120.67 566.05 L121.37 565.77 L122.06 565.50 L122.76 565.23 L123.46 564.96 L124.15 564.69 L124.85 564.42 L125.55 564.15 L126.24 563.88 L126.94 563.61 L127.63 563.34 L128.33 563.08 L129.03 562.81 L129.72 562.54 L130.42 562.27 L131.12 562.00 L131.81 561.74 L132.51 561.47 L133.20 561.20 L133.90 560.93 L134.60 560.67 L135.29 560.40 L135.99 560.14 L136.69 559.87 L137.38 559.61 L138.08 559.34 L138.77 559.07 L139.47 558.81 L140.17 558.55 L140.86 558.28 L141.56 558.02 L142.25 557.75 L142.95 557.49 L143.65 557.23 L144.34 556.96 L145.04 556.70 L145.74 556.44 L146.43 556.18 L147.13 555.92 L147.82 555.65 L148.52 555.39 L149.22 555.13 L149.91 554.87 L150.61 554.61 L151.31 554.35 L152.00 554.09 L152.70 553.83 L153.39 553.57 L154.09 553.31 L154.79 553.05 L155.48 552.79 L156.18 552.53 L156.88 552.27 L157.57 552.02 L158.27 551.76 L158.96 551.50 L159.66 551.24 L160.36 550.99 L161.05 550.73 L161.75 550.47 L162.44 550.21 L163.14 549.96 L163.84 549.70 L164.53 549.45 L165.23 549.19 L165.93 548.94 L166.62 548.68 L167.32 548.43 L168.01 548.17 L168.71 547.92 L169.41 547.66 L170.10 547.41 L170.80 547.15 L171.50 546.90 L172.19 546.65 L172.89 546.39 L173.58 546.14 L174.28 545.89 L174.98 545.64 L175.67 545.38 L176.37 545.13 L177.07 544.88 L177.76 544.63 L178.46 544.38 L179.15 544.13 L179.85 543.88 L180.55 543.63 L181.24 543.38 L181.94 543.13 L182.63 542.88 L183.33 542.63 L184.03 542.38 L184.72 542.13 L185.42 541.88 L186.12 541.63 L186.81 541.38 L187.51 541.13 L188.20 540.89 L188.90 540.64 L189.60 540.39 L190.29 540.14 L190.99 539.90 L191.69 539.65 L192.38 539.40 L193.08 539.16 L193.77 538.91 L194.47 538.67 L195.17 538.42 L195.86 538.17 L196.56 537.93 L197.26 537.68 L197.95 537.44 L198.65 537.19 L199.34 536.95 L200.04 536.71 L200.74 536.46 L201.43 536.22 L202.13 535.98 L202.83 535.73 L203.52 535.49 L204.22 535.25 L204.91 535.00 L205.61 534.76 L206.31 534.52 L207.00 534.28 L207.70 534.04 L208.39 533.79 L209.09 533.55 L209.79 533.31 L210.48 533.07 L211.18 532.83 L211.88 532.59 L212.57 532.35 L213.27 532.11 L213.96 531.87 L214.66 531.63 L215.36 531.39 L216.05 531.15 L216.75 530.91 L217.45 530.68 L218.14 530.44 L218.84 530.20 L219.53 529.96 L220.23 529.72 L220.93 529.49 L221.62 529.25 L222.32 529.01 L223.02 528.77 L223.71 528.54 L224.41 528.30 L225.10 528.06 L225.80 527.83 L226.50 527.59 L227.19 527.36 L227.89 527.12 L228.58 526.89 L229.28 526.65 L229.98 526.42 L230.67 526.18 L231.37 525.95 L232.07 525.71 L232.76 525.48 L233.46 525.25 L234.15 525.01 L234.85 524.78 L235.55 524.55 L236.24 524.31 L236.94 524.08 L237.64 523.85 L238.33 523.61 L239.03 523.38 L239.72 523.15 L240.42 522.92 L241.12 522.69 L241.81 522.46 L242.51 522.22 L243.21 521.99 L243.90 521.76 L244.60 521.53 L245.29 521.30 L245.99 521.07 L246.69 520.84 L247.38 520.61 L248.08 520.38 L248.77 520.15 L249.47 519.93 L250.17 519.70 L250.86 519.47 L251.56 519.24 L252.26 519.01 L252.95 518.78 L253.65 518.56 L254.34 518.33 L255.04 518.10 L255.74 517.87 L256.43 517.65 L257.13 517.42 L257.83 517.19 L258.52 516.97 L259.22 516.74 L259.91 516.51 L260.61 516.29 L261.31 516.06 L262.00 515.84 L262.70 515.61 L263.40 515.39 L264.09 515.16 L264.79 514.94 L265.48 514.71 L266.18 514.49 L266.88 514.26 L267.57 514.04 L268.27 513.82 L268.96 513.59 L269.66 513.37 L270.36 513.15 L271.05 512.92 L271.75 512.70 L272.45 512.48 L273.14 512.26 L273.84 512.03 L274.53 511.81 L275.23 511.59 L275.93 511.37 L276.62 511.15 L277.32 510.93 L278.02 510.71 L278.71 510.48 L279.41 510.26 L280.10 510.04 L280.80 509.82 L281.50 509.60 L282.19 509.38 L282.89 509.16 L283.59 508.94 L284.28 508.73 L284.98 508.51 L285.67 508.29 L286.37 508.07 L287.07 507.85 L287.76 507.63 L288.46 507.41 L289.15 507.20 L289.85 506.98 L290.55 506.76 L291.24 506.54 L291.94 506.33 L292.64 506.11 L293.33 505.89 L294.03 505.68 L294.72 505.46 L295.42 505.24 L296.12 505.03 L296.81 504.81 L297.51 504.59 L298.21 504.38 L298.90 504.16 L299.60 503.95 L300.29 503.73 L300.99 503.52 L301.69 503.30 L302.38 503.09 L303.08 502.88 L303.78 502.66 L304.47 502.45 L305.17 502.23 L305.86 502.02 L306.56 501.81 L307.26 501.59 L307.95 501.38 L308.65 501.17 L309.34 500.96 L310.04 500.74 L310.74 500.53 L311.43 500.32 L312.13 500.11 L312.83 499.90 L313.52 499.68 L314.22 499.47 L314.91 499.26 L315.61 499.05 L316.31 498.84 L317.00 498.63 L317.70 498.42 L318.40 498.21 L319.09 498.00 L319.79 497.79 L320.48 497.58 L321.18 497.37 L321.88 497.16 L322.57 496.95 L323.27 496.74 L323.97 496.53 L324.66 496.32 L325.36 496.12 L326.05 495.91 L326.75 495.70 L327.45 495.49 L328.14 495.28 L328.84 495.08 L329.54 494.87 L330.23 494.66 L330.93 494.45 L331.62 494.25 L332.32 494.04 L333.02 493.83 L333.71 493.63 L334.41 493.42 L335.10 493.21 L335.80 493.01 L336.50 492.80 L337.19 492.60 L337.89 492.39 L338.59 492.19 L339.28 491.98 L339.98 491.78 L340.67 491.57 L341.37 491.37 L342.07 491.16 L342.76 490.96 L343.46 490.76 L344.16 490.55 L344.85 490.35 L345.55 490.14 L346.24 489.94 L346.94 489.74 L347.64 489.53 L348.33 489.33 L349.03 489.13 L349.73 488.93 L350.42 488.72 L351.12 488.52 L351.81 488.32 L352.51 488.12 L353.21 487.92 L353.90 487.72 L354.60 487.51 L355.29 487.31 L355.99 487.11 L356.69 486.91 L357.38 486.71 L358.08 486.51 L358.78 486.31 L359.47 486.11 L360.17 485.91 L360.86 485.71 L361.56 485.51 L362.26 485.31 L362.95 485.11 L363.65 484.91 L364.35 484.71 L365.04 484.51 L365.74 484.32 L366.43 484.12 L367.13 483.92 L367.83 483.72 L368.52 483.52 L369.22 483.32 L369.92 483.13 L370.61 482.93 L371.31 482.73 L372.00 482.53 L372.70 482.34 L373.40 482.14 L374.09 481.94 L374.79 481.75 L375.48 481.55 L376.18 481.35 L376.88 481.16 L377.57 480.96 L378.27 480.77 L378.97 480.57 L379.66 480.38 L380.36 480.18 L381.05 479.99 L381.75 479.79 L382.45 479.60 L383.14 479.40 L383.84 479.21 L384.54 479.01 L385.23 478.82 L385.93 478.62 L386.62 478.43 L387.32 478.24 L388.02 478.04 L388.71 477.85 L389.41 477.66 L390.11 477.46 L390.80 477.27 L391.50 477.08 L392.19 476.88 L392.89 476.69 L393.59 476.50 L394.28 476.31 L394.98 476.12 L395.67 475.92 L396.37 475.73 L397.07 475.54 L397.76 475.35 L398.46 475.16 L399.16 474.97 L399.85 474.78 L400.55 474.59 L401.24 474.40 L401.94 474.20 L402.64 474.01 L403.33 473.82 L404.03 473.63 L404.73 473.44 L405.42 473.25 L406.12 473.07 L406.81 472.88 L407.51 472.69 L408.21 472.50 L408.90 472.31 L409.60 472.12 L410.30 471.93 L410.99 471.74 L411.69 471.55 L412.38 471.37 L413.08 471.18 L413.78 470.99 L414.47 470.80 L415.17 470.62 L415.86 470.43 L416.56 470.24 L417.26 470.05 L417.95 469.87 L418.65 469.68 L419.35 469.49 L420.04 469.31 L420.74 469.12 L421.43 468.93 L422.13 468.75 L422.83 468.56 L423.52 468.38 L424.22 468.19 L424.92 468.00 L425.61 467.82 L426.31 467.63 L427.00 467.45 L427.70 467.26 L428.40 467.08 L429.09 466.89 L429.79 466.71 L430.49 466.53 L431.18 466.34 L431.88 466.16 L432.57 465.97 L433.27 465.79 L433.97 465.61 L434.66 465.42 L435.36 465.24 L436.06 465.06 L436.75 464.87 L437.45 464.69 L438.14 464.51 L438.84 464.33 L439.54 464.14 L440.23 463.96 L440.93 463.78 L441.62 463.60 L442.32 463.41 L443.02 463.23 L443.71 463.05 L444.41 462.87 L445.11 462.69 L445.80 462.51 L446.50 462.33 L447.19 462.15 L447.89 461.97 L448.59 461.78 L449.28 461.60 L449.98 461.42 L450.68 461.24 L451.37 461.06 L452.07 460.88 L452.76 460.70 L453.46 460.52 L454.16 460.35 L454.85 460.17 L455.55 459.99 L456.25 459.81 L456.94 459.63 L457.64 459.45 L458.33 459.27 L459.03 459.09 L459.73 458.91 L460.42 458.74 L461.12 458.56 L461.81 458.38 L462.51 458.20 L463.21 458.02 L463.90 457.85 L464.60 457.67 L465.30 457.49 L465.99 457.32 L466.69 457.14 L467.38 456.96 L468.08 456.79 L468.78 456.61 L469.47 456.43 L470.17 456.26 L470.87 456.08 L471.56 455.90 L472.26 455.73 L472.95 455.55 L473.65 455.38 L474.35 455.20 L475.04 455.03 L475.74 454.85 L476.44 454.68 L477.13 454.50 L477.83 454.33 L478.52 454.15 L479.22 453.98 L479.92 453.80 L480.61 453.63 L481.31 453.45 L482.00 453.28 L482.70 453.11 L483.40 452.93 L484.09 452.76 L484.79 452.59 L485.49 452.41 L486.18 452.24 L486.88 452.07 L487.57 451.89 L488.27 451.72 L488.97 451.55 L489.66 451.38 L490.36 451.20 L491.06 451.03 L491.75 450.86 L492.45 450.69 L493.14 450.51 L493.84 450.34 L494.54 450.17 L495.23 450.00 L495.93 449.83 L496.63 449.66 L497.32 449.49 L498.02 449.32 L498.71 449.14 L499.41 448.97 L500.11 448.80 L500.80 448.63 L501.50 448.46 L502.19 448.29 L502.89 448.12 L503.59 447.95 L504.28 447.78 L504.98 447.61 L505.68 447.44 L506.37 447.27 L507.07 447.11 L507.76 446.94 L508.46 446.77 L509.16 446.60 L509.85 446.43 L510.55 446.26 L511.25 446.09 L511.94 445.92 L512.64 445.76 L513.33 445.59 L514.03 445.42 L514.73 445.25 L515.42 445.08 L516.12 444.92 L516.82 444.75 L517.51 444.58 L518.21 444.41 L518.90 444.25 L519.60 444.08 L520.30 443.91 L520.99 443.75 L521.69 443.58 L522.38 443.41 L523.08 443.25 L523.78 443.08 L524.47 442.92 L525.17 442.75 L525.87 442.58 L526.56 442.42 L527.26 442.25 L527.95 442.09 L528.65 441.92 L529.35 441.76 L530.04 441.59 L530.74 441.43 L531.44 441.26 L532.13 441.10 L532.83 440.93 L533.52 440.77 L534.22 440.60 L534.92 440.44 L535.61 440.27 L536.31 440.11 L537.01 439.95 L537.70 439.78 L538.40 439.62 L539.09 439.46 L539.79 439.29 L540.49 439.13 L541.18 438.97 L541.88 438.80 L542.57 438.64 L543.27 438.48 L543.97 438.32 L544.66 438.15 L545.36 437.99 L546.06 437.83 L546.75 437.67 L547.45 437.50 L548.14 437.34 L548.84 437.18 L549.54 437.02 L550.23 436.86 L550.93 436.70 L551.63 436.53 L552.32 436.37 L553.02 436.21 L553.71 436.05 L554.41 435.89 L555.11 435.73 L555.80 435.57 L556.50 435.41 L557.20 435.25 L557.89 435.09 L558.59 434.93 L559.28 434.77 L559.98 434.61 L560.68 434.45 L561.37 434.29 L562.07 434.13 L562.77 433.97 L563.46 433.81 L564.16 433.65 L564.85 433.49 L565.55 433.33 L566.25 433.17 L566.94 433.01 L567.64 432.86 L568.33 432.70 L569.03 432.54 L569.73 432.38 L570.42 432.22 L571.12 432.07 L571.82 431.91 L572.51 431.75 L573.21 431.59 L573.90 431.43 L574.60 431.28 L575.30 431.12 L575.99 430.96 L576.69 430.81 L577.39 430.65 L578.08 430.49 L578.78 430.33 L579.47 430.18 L580.17 430.02 L580.87 429.86 L581.56 429.71 L582.26 429.55 L582.96 429.40 L583.65 429.24 L584.35 429.08 L585.04 428.93 L585.74 428.77 L586.44 428.62 L587.13 428.46 L587.83 428.31 L588.52 428.15 L589.22 428.00 L589.92 427.84 L590.61 427.69 L591.31 427.53 L592.01 427.38 L592.70 427.22 L593.40 427.07 L594.09 426.91 L594.79 426.76 L595.49 426.61 L596.18 426.45 L596.88 426.30 L597.58 426.14 L598.27 425.99 L598.97 425.84 L599.66 425.68 L600.36 425.53 L601.06 425.38 L601.75 425.22 L602.45 425.07 L603.15 424.92 L603.84 424.77 L604.54 424.61 L605.23 424.46 L605.93 424.31 L606.63 424.16 L607.32 424.00 L608.02 423.85 L608.71 423.70 L609.41 423.55 L610.11 423.40 L610.80 423.25 L611.50 423.09 L612.20 422.94 L612.89 422.79 L613.59 422.64 L614.28 422.49 L614.98 422.34 L615.68 422.19 L616.37 422.04 L617.07 421.89 L617.77 421.74 L618.46 421.58 L619.16 421.43 L619.85 421.28 L620.55 421.13 L621.25 420.98 L621.94 420.83 L622.64 420.68 L623.34 420.53 L624.03 420.39 L624.73 420.24 L625.42 420.09 L626.12 419.94 L626.82 419.79 L627.51 419.64 L628.21 419.49 L628.90 419.34 L629.60 419.19 L630.30 419.04 L630.99 418.90 L631.69 418.75 L632.39 418.60 L633.08 418.45 L633.78 418.30 L634.47 418.15 L635.17 418.01 L635.87 417.86 L636.56 417.71 L637.26 417.56 L637.96 417.42 L638.65 417.27 L639.35 417.12 L640.04 416.97 L640.74 416.83 L641.44 416.68 L642.13 416.53 L642.83 416.39 L643.53 416.24 L644.22 416.09 L644.92 415.95 L645.61 415.80 L646.31 415.65 L647.01 415.51 L647.70 415.36 L648.40 415.22 L649.09 415.07 L649.79 414.92 L650.49 414.78 L651.18 414.63 L651.88 414.49 L652.58 414.34 L653.27 414.20 L653.97 414.05 L654.66 413.91 L655.36 413.76 L656.06 413.62 L656.75 413.47 L657.45 413.33 L658.15 413.18 L658.84 413.04 L659.54 412.90 L660.23 412.75 L660.93 412.61 L661.63 412.46 L662.32 412.32 L663.02 412.18 L663.72 412.03 L664.41 411.89 L665.11 411.75 L665.80 411.60 L666.50 411.46 L667.20 411.32 L667.89 411.17 L668.59 411.03 L669.28 410.89 L669.98 410.74 L670.68 410.60 L671.37 410.46 L672.07 410.32 L672.77 410.17 L673.46 410.03 L674.16 409.89 L674.85 409.75 L675.55 409.61 L676.25 409.46 L676.94 409.32 L677.64 409.18 L678.34 409.04 L679.03 408.90 L679.73 408.76 L680.42 408.61 L681.12 408.47 L681.82 408.33 L682.51 408.19 L683.21 408.05 L683.91 407.91 L684.60 407.77 L685.30 407.63 L685.99 407.49 L686.69 407.35 L687.39 407.21 L688.08 407.07 L688.78 406.93 L689.48 406.79 L690.17 406.65 L690.87 406.51 L691.56 406.37 L692.26 406.23 L692.96 406.09 L693.65 405.95 L694.35 405.81 L695.04 405.67 L695.74 405.53 L696.44 405.39 L697.13 405.25 L697.83 405.11 L698.53 404.97 L699.22 404.84 L699.92 404.70 L700.61 404.56 L701.31 404.42 L702.01 404.28 L702.70 404.14 L703.40 404.01 L704.10 403.87 L704.79 403.73 L705.49 403.59 L706.18 403.45 L706.88 403.32 L707.58 403.18 L708.27 403.04 L708.97 402.90 L709.67 402.77 L710.36 402.63 L711.06 402.49 L711.75 402.36 L712.45 402.22 L713.15 402.08 L713.84 401.95 L714.54 401.81 L715.23 401.67 L715.93 401.54 L716.63 401.40 L717.32 401.26 L718.02 401.13 L718.72 400.99 L719.41 400.86 L720.11 400.72 L720.80 400.58 L721.50 400.45 L722.20 400.31 L722.89 400.18 L723.59 400.04 L724.29 399.91 L724.98 399.77 L725.68 399.64 L726.37 399.50 L727.07 399.37 L727.77 399.23 L728.46 399.10 L729.16 398.96 L729.86 398.83 L730.55 398.69 L731.25 398.56 L731.94 398.42 L732.64 398.29 L733.34 398.16 L734.03 398.02 L734.73 397.89 L735.42 397.75 L736.12 397.62 L736.82 397.49 L737.51 397.35 L738.21 397.22 L738.91 397.09 L739.60 396.95 L740.30 396.82 L740.99 396.69 L741.69 396.55 L742.39 396.42 L743.08 396.29 L743.78 396.15 L744.48 396.02 L745.17 395.89 L745.87 395.76 L746.56 395.62 L747.26 395.49 L747.96 395.36 L748.65 395.23 L749.35 395.09 L750.05 394.96 L750.74 394.83 L751.44 394.70 L752.13 394.57 L752.83 394.44 L753.53 394.30 L754.22 394.17 L754.92 394.04 L755.61 393.91 L756.31 393.78 L757.01 393.65 L757.70 393.52 L758.40 393.39 L759.10 393.26 L759.79 393.12 L760.49 392.99 L761.18 392.86 L761.88 392.73 L762.58 392.60 L763.27 392.47 L763.97 392.34 L764.67 392.21 L765.36 392.08 L766.06 391.95 L766.75 391.82 L767.45 391.69 L768.15 391.56 L768.84 391.43 L769.54 391.30 L770.24 391.17 L770.93 391.04 L771.63 390.91 L772.32 390.79 L773.02 390.66 L773.72 390.53 L774.41 390.40 L775.11 390.27 L775.80 390.14 L776.50 390.01 L777.20 389.88 L777.89 389.76 L778.59 389.63 L779.29 389.50 L779.98 389.37 L780.68 389.24 L781.37 389.11 L782.07 388.99 L782.77 388.86 L783.46 388.73 L784.16 388.60 L784.86 388.47 L785.55 388.35 L786.25 388.22 L786.94 388.09 L787.64 387.96 L788.34 387.84 L789.03 387.71 L789.73 387.58 L790.43 387.46 L791.12 387.33 L791.82 387.20 L792.51 387.08 L793.21 386.95 L793.91 386.82 L794.60 386.70 L795.30 386.57 L796.00 386.44 L796.69 386.32 L797.39 386.19 L798.08 386.07 L798.78 385.94 L799.48 385.81 L800.17 385.69 L800.87 385.56 L801.56 385.44 L802.26 385.31 L802.96 385.18 L803.65 385.06 L804.35 384.93 L805.05 384.81 L805.74 384.68 L806.44 384.56 L807.13 384.43 L807.83 384.31 L808.53 384.18 L809.22 384.06 L809.92 383.93 L810.62 383.81 L811.31 383.69 L812.01 383.56 L812.70 383.44 L813.40 383.31 L814.10 383.19 L814.79 383.06 L815.49 382.94 L816.19 382.82 L816.88 382.69 L817.58 382.57 L818.27 382.44 L818.97 382.32 L819.67 382.20 L820.36 382.07 L821.06 381.95 L821.75 381.83 L822.45 381.70 L823.15 381.58 L823.84 381.46 L824.54 381.33 L825.24 381.21 L825.93 381.09 L826.63 380.97 L827.32 380.84 L828.02 380.72 L828.72 380.60 L829.41 380.48 L830.11 380.35 L830.81 380.23 L831.50 380.11 L832.20 379.99 L832.89 379.86 L833.59 379.74 L834.29 379.62 L834.98 379.50 L835.68 379.38 L836.38 379.26 L837.07 379.13 L837.77 379.01 L838.46 378.89 L839.16 378.77 L839.86 378.65 L840.55 378.53 L841.25 378.41 L841.94 378.28 L842.64 378.16 L843.34 378.04 L844.03 377.92 L844.73 377.80 L845.43 377.68 L846.12 377.56 L846.82 377.44 L847.51 377.32 L848.21 377.20 L848.91 377.08 L849.60 376.96 L850.30 376.84 L851.00 376.72 L851.69 376.60 L852.39 376.48 L853.08 376.36 L853.78 376.24 L854.48 376.12 L855.17 376.00 L855.87 375.88 L856.57 375.76 L857.26 375.64 L857.96 375.52 L858.65 375.40 L859.35 375.28 L860.05 375.16 L860.74 375.05 L861.44 374.93 L862.13 374.81 L862.83 374.69 L863.53 374.57 L864.22 374.45 L864.92 374.33 L865.62 374.22 L866.31 374.10 L867.01 373.98 L867.70 373.86 L868.40 373.74 L869.10 373.62 L869.79 373.51 L870.49 373.39 L871.19 373.27 L871.88 373.15 L872.58 373.04 L873.27 372.92 L873.97 372.80 L874.67 372.68 L875.36 372.57 L876.06 372.45 L876.76 372.33 L877.45 372.21 L878.15 372.10 L878.84 371.98 L879.54 371.86 L880.24 371.75 L880.93 371.63 L881.63 371.51 L882.32 371.40 L883.02 371.28 L883.72 371.16 L884.41 371.05 L885.11 370.93 L885.81 370.81 L886.50 370.70 L887.20 370.58 L887.89 370.46 L888.59 370.35 L889.29 370.23 L889.98 370.12 L890.68 370.00 L891.38 369.89 L892.07 369.77 L892.77 369.65 L893.46 369.54 L894.16 369.42 L894.86 369.31 L895.55 369.19 L896.25 369.08 L896.95 368.96 L897.64 368.85 L898.34 368.73 L899.03 368.62 L899.73 368.50 L900.43 368.39 L901.12 368.27 L901.82 368.16 L902.51 368.04 L903.21 367.93 L903.91 367.81 L904.60 367.70 L905.30 367.59 L906.00 367.47 L906.69 367.36 L907.39 367.24 L908.08 367.13 L908.78 367.02 L909.48 366.90 L910.17 366.79 L910.87 366.67 L911.57 366.56 L912.26 366.45 L912.96 366.33 L913.65 366.22 L914.35 366.11 L915.05 365.99 L915.74 365.88 L916.44 365.77 L917.14 365.65 L917.83 365.54 L918.53 365.43 L919.22 365.32 L919.92 365.20 L920.62 365.09 L921.31 364.98 L922.01 364.87 L922.71 364.75 L923.40 364.64 L924.10 364.53 L924.79 364.42 L925.49 364.30 L926.19 364.19 L926.88 364.08 L927.58 363.97 L928.27 363.86 L928.97 363.74 L929.67 363.63 L930.36 363.52 L931.06 363.41 L931.76 363.30 L932.45 363.18 L933.15 363.07 L933.84 362.96 L934.54 362.85 L935.24 362.74 L935.93 362.63 L936.63 362.52 L937.33 362.41 L938.02 362.29 L938.72 362.18 L939.41 362.07 L940.11 361.96 L940.81 361.85 L941.50 361.74 L942.20 361.63 L942.90 361.52 L943.59 361.41 L944.29 361.30 L944.98 361.19 L945.68 361.08 L946.38 360.97 L947.07 360.86 L947.77 360.75 L948.46 360.64 L949.16 360.53 L949.86 360.42 L950.55 360.31 L951.25 360.20 L951.95 360.09 L952.64 359.98 L953.34 359.87 L954.03 359.76 L954.73 359.65 L955.43 359.54 L956.12 359.43 L956.82 359.32 L957.52 359.21 L958.21 359.11 L958.91 359.00 L959.60 358.89 L960.30 358.78 L961.00 358.67 L961.69 358.56 L962.39 358.45 L963.09 358.34 L963.78 358.24 L964.48 358.13 L965.17 358.02 L965.87 357.91 L966.57 357.80 L967.26 357.69 L967.96 357.59 L968.65 357.48 L969.35 357.37 L970.05 357.26 L970.74 357.15 L971.44 357.05 L972.14 356.94 L972.83 356.83 L973.53 356.72 L974.22 356.62 L974.92 356.51 L975.62 356.40 L976.31 356.29 L977.01 356.19 L977.71 356.08 L978.40 355.97 L979.10 355.87 L979.79 355.76 L980.49 355.65 L981.19 355.54 L981.88 355.44 L982.58 355.33 L983.28 355.22 L983.97 355.12 L984.67 355.01 L985.36 354.90 L986.06 354.80 L986.76 354.69 L987.45 354.59 L988.15 354.48 L988.84 354.37 L989.54 354.27 L990.24 354.16 L990.93 354.05 L991.63 353.95 L992.33 353.84 L993.02 353.74 L993.72 353.63 L994.41 353.53 L995.11 353.42 L995.81 353.31 L996.50 353.21 L997.20 353.10 L997.90 353.00 L998.59 352.89 L999.29 352.79 L999.98 352.68 L1000.68 352.58 L1001.38 352.47 L1002.07 352.37 L1002.77 352.26 L1003.47 352.16 L1004.16 352.05 L1004.86 351.95 L1005.55 351.84 L1006.25 351.74 L1006.95 351.63 L1007.64 351.53 L1008.34 351.43 L1009.03 351.32 L1009.73 351.22 L1010.43 351.11 L1011.12 351.01 L1011.82 350.90 L1012.52 350.80 L1013.21 350.70 L1013.91 350.59 L1014.60 350.49 L1015.30 350.38 L1016.00 350.28 L1016.69 350.18 L1017.39 350.07 L1018.09 349.97 L1018.78 349.87 L1019.48 349.76 L1020.17 349.66 L1020.87 349.56 L1021.57 349.45 L1022.26 349.35 L1022.96 349.25 L1023.66 349.14 L1024.35 349.04 L1025.05 348.94 L1025.74 348.84 L1026.44 348.73 L1027.14 348.63 L1027.83 348.53 L1028.53 348.42 L1029.23 348.32 L1029.92 348.22 L1030.62 348.12 L1031.31 348.01 L1032.01 347.91 L1032.71 347.81 L1033.40 347.71 L1034.10 347.61 L1034.79 347.50 L1035.49 347.40 L1036.19 347.30 L1036.88 347.20 L1037.58 347.10 L1038.28 346.99 L1038.97 346.89 L1039.67 346.79 L1040.36 346.69 L1041.06 346.59 L1041.76 346.49 L1042.45 346.38 L1043.15 346.28 L1043.85 346.18 L1044.54 346.08 L1045.24 345.98 L1045.93 345.88 L1046.63 345.78 L1047.33 345.68 L1048.02 345.58 L1048.72 345.47 L1049.42 345.37 L1050.11 345.27 L1050.81 345.17 L1051.50 345.07 L1052.20 344.97 L1052.90 344.87 L1053.59 344.77 L1054.29 344.67 L1054.98 344.57 L1055.68 344.47 L1056.38 344.37 L1057.07 344.27 L1057.77 344.17 L1058.47 344.07 L1059.16 343.97 L1059.86 343.87 L1060.55 343.77 L1061.25 343.67 L1061.95 343.57 L1062.64 343.47 L1063.34 343.37 L1064.04 343.27 L1064.73 343.17 L1065.43 343.07 L1066.12 342.97 L1066.82 342.87 L1067.52 342.77 L1068.21 342.67 L1068.91 342.57 L1069.61 342.48 L1070.30 342.38 L1071.00 342.28 L1071.69 342.18 L1072.39 342.08 L1073.09 341.98 L1073.78 341.88 L1074.48 341.78 L1075.17 341.68 L1075.87 341.59 L1076.57 341.49 L1077.26 341.39 L1077.96 341.29 L1078.66 341.19 L1079.35 341.09 L1080.05 340.99 L1080.74 340.90 L1081.44 340.80 L1082.14 340.70 L1082.83 340.60 L1083.53 340.50 L1084.23 340.41 L1084.92 340.31 L1085.62 340.21 L1086.31 340.11 L1087.01 340.02 L1087.71 339.92 L1088.40 339.82 L1089.10 339.72 L1089.80 339.62 L1090.49 339.53 L1091.19 339.43 L1091.88 339.33 L1092.58 339.24 L1093.28 339.14 L1093.97 339.04 L1094.67 338.94 L1095.36 338.85 L1096.06 338.75 L1096.76 338.65 L1097.45 338.56 L1098.15 338.46 L1098.85 338.36 L1099.54 338.27 L1100.24 338.17 L1100.93 338.07 L1101.63 337.98 L1102.33 337.88 L1103.02 337.78 L1103.72 337.69 L1104.42 337.59 L1105.11 337.49 L1105.81 337.40 L1106.50 337.30 L1107.20 337.21 L1107.90 337.11 L1108.59 337.01 L1109.29 336.92 L1109.99 336.82 L1110.68 336.73 L1111.38 336.63 L1112.07 336.53 L1112.77 336.44 L1113.47 336.34 L1114.16 336.25 L1114.86 336.15 L1115.55 336.06 L1116.25 335.96 L1116.95 335.87 L1117.64 335.77 L1118.34 335.68 L1119.04 335.58 L1119.73 335.49 L1120.43 335.39 L1121.12 335.30 L1121.82 335.20 L1122.52 335.11 L1123.21 335.01 L1123.91 334.92 L1124.61 334.82 L1125.30 334.73 L1126.00 334.63 L1126.69 334.54 L1127.39 334.44 L1128.09 334.35 L1128.78 334.25 L1129.48 334.16 L1130.18 334.06 L1130.87 333.97 L1131.57 333.88 L1132.26 333.78 L1132.96 333.69 L1133.66 333.59 L1134.35 333.50 L1135.05 333.41 L1135.74 333.31 L1136.44 333.22 L1137.14 333.12 L1137.83 333.03 L1138.53 332.94 L1139.23 332.84 L1139.92 332.75 L1140.62 332.66 L1141.31 332.56 L1142.01 332.47 L1142.71 332.38 L1143.40 332.28 L1144.10 332.19 L1144.80 332.10 L1145.49 332.00 L1146.19 331.91 L1146.88 331.82 L1147.58 331.72 L1148.28 331.63 L1148.97 331.54 L1149.67 331.45 L1150.37 331.35 L1151.06 331.26 L1151.76 331.17 L1152.45 331.07 L1153.15 330.98 L1153.85 330.89 L1154.54 330.80 L1155.24 330.70 L1155.94 330.61 L1156.63 330.52 L1157.33 330.43 L1158.02 330.34 L1158.72 330.24 L1159.42 330.15 L1160.11 330.06 L1160.81 329.97 L1161.50 329.88 L1162.20 329.78 L1162.90 329.69 L1163.59 329.60 L1164.29 329.51 L1164.99 329.42 L1165.68 329.32 L1166.38 329.23 L1167.07 329.14 L1167.77 329.05 L1168.47 328.96 L1169.16 328.87 L1169.86 328.78 L1170.56 328.68 L1171.25 328.59 L1171.95 328.50 L1172.64 328.41 L1173.34 328.32 L1174.04 328.23 L1174.73 328.14 L1175.43 328.05 L1176.13 327.96 L1176.82 327.87 L1177.52 327.77 L1178.21 327.68 L1178.91 327.59 L1179.61 327.50 L1180.30 327.41 L1181.00 327.32 L1181.69 327.23 L1182.39 327.14 L1183.09 327.05 L1183.78 326.96 L1184.48 326.87 L1185.18 326.78 L1185.87 326.69 L1186.57 326.60 L1187.26 326.51 L1187.96 326.42 L1188.66 326.33 L1189.35 326.24 L1190.05 326.15 L1190.75 326.06 L1191.44 325.97 L1192.14 325.88 L1192.83 325.79 L1193.53 325.70 L1194.23 325.61 L1194.92 325.52 L1195.62 325.43 L1196.32 325.34 L1197.01 325.25 L1197.71 325.16 L1198.40 325.07 L1199.10 324.98 L1199.80 324.90 L1200.49 324.81 L1201.19 324.72 L1201.88 324.63 L1202.58 324.54 L1203.28 324.45 L1203.97 324.36 L1204.67 324.27 L1205.37 324.18 L1206.06 324.10 L1206.76 324.01 L1207.45 323.92 L1208.15 323.83 L1208.85 323.74 L1209.54 323.65 L1210.24 323.56 L1210.94 323.48 L1211.63 323.39 L1212.33 323.30 L1213.02 323.21 L1213.72 323.12 L1214.42 323.03 L1215.11 322.95 L1215.81 322.86 L1216.51 322.77 L1217.20 322.68 L1217.90 322.59 L1218.59 322.51 L1219.29 322.42 L1219.99 322.33 L1220.68 322.24 L1221.38 322.15 L1222.07 322.07 L1222.77 321.98 L1223.47 321.89 L1224.16 321.80 L1224.86 321.72 L1225.56 321.63 L1226.25 321.54 L1226.95 321.46 L1227.64 321.37 L1228.34 321.28 L1229.04 321.19 L1229.73 321.11 L1230.43 321.02 L1231.13 320.93 L1231.82 320.85 L1232.52 320.76 L1233.21 320.67 L1233.91 320.58 L1234.61 320.50 L1235.30 320.41 L1236.00 320.32 L1236.70 320.24 L1237.39 320.15 L1238.09 320.06 L1238.78 319.98 L1239.48 319.89 L1240.18 319.81 L1240.87 319.72 L1241.57 319.63 L1242.26 319.55 L1242.96 319.46 L1243.66 319.37 L1244.35 319.29 L1245.05 319.20 L1245.75 319.12 L1246.44 319.03 L1247.14 318.94 L1247.83 318.86 L1248.53 318.77 L1249.23 318.69 L1249.92 318.60 L1250.62 318.51 L1251.32 318.43 L1252.01 318.34 L1252.71 318.26 L1253.40 318.17 L1254.10 318.09 L1254.80 318.00 L1255.49 317.92 L1256.19 317.83 L1256.89 317.75 L1257.58 317.66 L1258.28 317.57 L1258.97 317.49 L1259.67 317.40 L1260.37 317.32 L1261.06 317.23 L1261.76 317.15 L1262.46 317.06 L1263.15 316.98 L1263.85 316.89 L1264.54 316.81 L1265.24 316.73 L1265.94 316.64 L1266.63 316.56 L1267.33 316.47 L1268.02 316.39 L1268.72 316.30 L1269.42 316.22 L1270.11 316.13 L1270.81 316.05 L1271.51 315.96 L1272.20 315.88 L1272.90 315.80 L1273.59 315.71 L1274.29 315.63 L1274.99 315.54 L1275.68 315.46 L1276.38 315.38 L1277.08 315.29 L1277.77 315.21 L1278.47 315.12 L1279.16 315.04 L1279.86 314.96 L1280.56 314.87 L1281.25 314.79 L1281.95 314.71 L1282.65 314.62 L1283.34 314.54 L1284.04 314.45 L1284.73 314.37 L1285.43 314.29 L1286.13 314.20 L1286.82 314.12 L1287.52 314.04 L1288.21 313.95 L1288.91 313.87 L1289.61 313.79 L1290.30 313.70 L1291.00 313.62 L1291.70 313.54 L1292.39 313.46 L1293.09 313.37 L1293.78 313.29 L1294.48 313.21 L1295.18 313.12 L1295.87 313.04 L1296.57 312.96 L1297.27 312.88 L1297.96 312.79 L1298.66 312.71 L1299.35 312.63 L1300.05 312.55 L1300.75 312.46 L1301.44 312.38 L1302.14 312.30 L1302.84 312.22 L1303.53 312.13 L1304.23 312.05 L1304.92 311.97 L1305.62 311.89 L1306.32 311.80 L1307.01 311.72 L1307.71 311.64 L1308.40 311.56 L1309.10 311.48 L1309.80 311.39 L1310.49 311.31 L1311.19 311.23 L1311.89 311.15 L1312.58 311.07 L1313.28 310.99 L1313.97 310.90 L1314.67 310.82 L1315.37 310.74 L1316.06 310.66 L1316.76 310.58 L1317.46 310.50 L1318.15 310.42 L1318.85 310.33 L1319.54 310.25 L1320.24 310.17 L1320.94 310.09 L1321.63 310.01 L1322.33 309.93 L1323.03 309.85 L1323.72 309.77 L1324.42 309.68 L1325.11 309.60 L1325.81 309.52 L1326.51 309.44 L1327.20 309.36 L1327.90 309.28 L1328.59 309.20 L1329.29 309.12 L1329.99 309.04 L1330.68 308.96 L1331.38 308.88 L1332.08 308.80 L1332.77 308.72 L1333.47 308.64 L1334.16 308.56 L1334.86 308.47 L1335.56 308.39 L1336.25 308.31 L1336.95 308.23 L1337.65 308.15 L1338.34 308.07 L1339.04 307.99 L1339.73 307.91 L1340.43 307.83 L1341.13 307.75 L1341.82 307.67 L1342.52 307.59 L1343.22 307.51 L1343.91 307.43 L1344.61 307.35 L1345.30 307.27 L1346.00 307.19 L1346.70 307.11 L1347.39 307.04 L1348.09 306.96 L1348.78 306.88 L1349.48 306.80 L1350.18 306.72 L1350.87 306.64 L1351.57 306.56 L1352.27 306.48 L1352.96 306.40 L1353.66 306.32 L1354.35 306.24 L1355.05 306.16 L1355.75 306.08 L1356.44 306.00 L1357.14 305.92 L1357.84 305.85 L1358.53 305.77 L1359.23 305.69 L1359.92 305.61 L1360.62 305.53 L1361.32 305.45 L1362.01 305.37 L1362.71 305.29 L1363.41 305.22 L1364.10 305.14 L1364.80 305.06 L1365.49 304.98 L1366.19 304.90 L1366.89 304.82 L1367.58 304.74 L1368.28 304.67 L1368.97 304.59 L1369.67 304.51 L1370.37 304.43 L1371.06 304.35 L1371.76 304.27 L1372.46 304.20 L1373.15 304.12 L1373.85 304.04 L1374.54 303.96 L1375.24 303.88 L1375.94 303.81 L1376.63 303.73 L1377.33 303.65 L1378.03 303.57 L1378.72 303.49 L1379.42 303.42 L1380.11 303.34 L1380.81 303.26 L1381.51 303.18 L1382.20 303.11 L1382.90 303.03 L1383.60 302.95 L1384.29 302.87 L1384.99 302.80 L1385.68 302.72 L1386.38 302.64 L1387.08 302.56 L1387.77 302.49" fill="none" stroke="#000" stroke-width="2.3" stroke-dasharray="8 6.98" stroke-dashoffset="9.78"/>
<text transform="scale(0.9185,1)" x="2.46" y="75.3" style="font-family:'Liberation Sans',Arial,sans-serif;font-size:71.89px" stroke="#000" stroke-width="0.76" stroke-linejoin="round">U</text>
<text transform="scale(1.0117,1)" x="69.57 87.18 130.25" y="75.3" style="font-family:'Liberation Sans',Arial,sans-serif;font-size:72.97px">ldr</text>
<text transform="scale(0.7714,1)" x="543.56" y="85.2" style="font-family:'Liberation Sans',Arial,sans-serif;font-size:72.09px" stroke="#000" stroke-width="0.63" stroke-linejoin="round">R</text>
<text transform="translate(0 82.47) scale(0.9079,0.8126)" x="526.78" y="0" style="font-family:'Liberation Sans',Arial,sans-serif;font-size:73.00px">=</text>
<text transform="scale(0.9674,1)" x="554.33 596.00 637.92" y="85.2" style="font-family:'Liberation Sans',Arial,sans-serif;font-size:72.48px" stroke="#000" stroke-width="0.36" stroke-linejoin="round">100</text>
<text transform="scale(0.9402,1)" x="717.50 775.26 821.25" y="85.2" style="font-family:'Liberation Sans',Arial,sans-serif;font-size:72.16px" stroke="#000" stroke-width="0.58" stroke-linejoin="round">Ohm</text>
<text transform="scale(0.7806,1)" x="748.50" y="485.6" style="font-family:'Liberation Sans',Arial,sans-serif;font-size:72.13px" stroke="#000" stroke-width="0.60" stroke-linejoin="round">R</text>
<text transform="translate(0 484.10) scale(0.9079,0.8600)" x="709.18" y="0" style="font-family:'Liberation Sans',Arial,sans-serif;font-size:73.00px">=</text>
<text transform="scale(0.9754,1)" x="719.10 760.29 801.65 843.33 885.01" y="485.6" style="font-family:'Liberation Sans',Arial,sans-serif;font-size:72.58px" stroke="#000" stroke-width="0.29" stroke-linejoin="round">10000</text>
<text transform="scale(0.9394,1)" x="978.49 1037.41 1083.50" y="485.6" style="font-family:'Liberation Sans',Arial,sans-serif;font-size:72.15px" stroke="#000" stroke-width="0.58" stroke-linejoin="round">Ohm</text>
<text transform="scale(0.7737,1)" x="1551.76" y="585.1" style="font-family:'Liberation Sans',Arial,sans-serif;font-size:72.10px" stroke="#000" stroke-width="0.62" stroke-linejoin="round">R</text>
<text transform="scale(0.9980,1)" x="1263.22 1281.10 1324.67" y="585.1" style="font-family:'Liberation Sans',Arial,sans-serif;font-size:72.83px" stroke="#000" stroke-width="0.12" stroke-linejoin="round">ldr</text>
</svg>
</body></html>
